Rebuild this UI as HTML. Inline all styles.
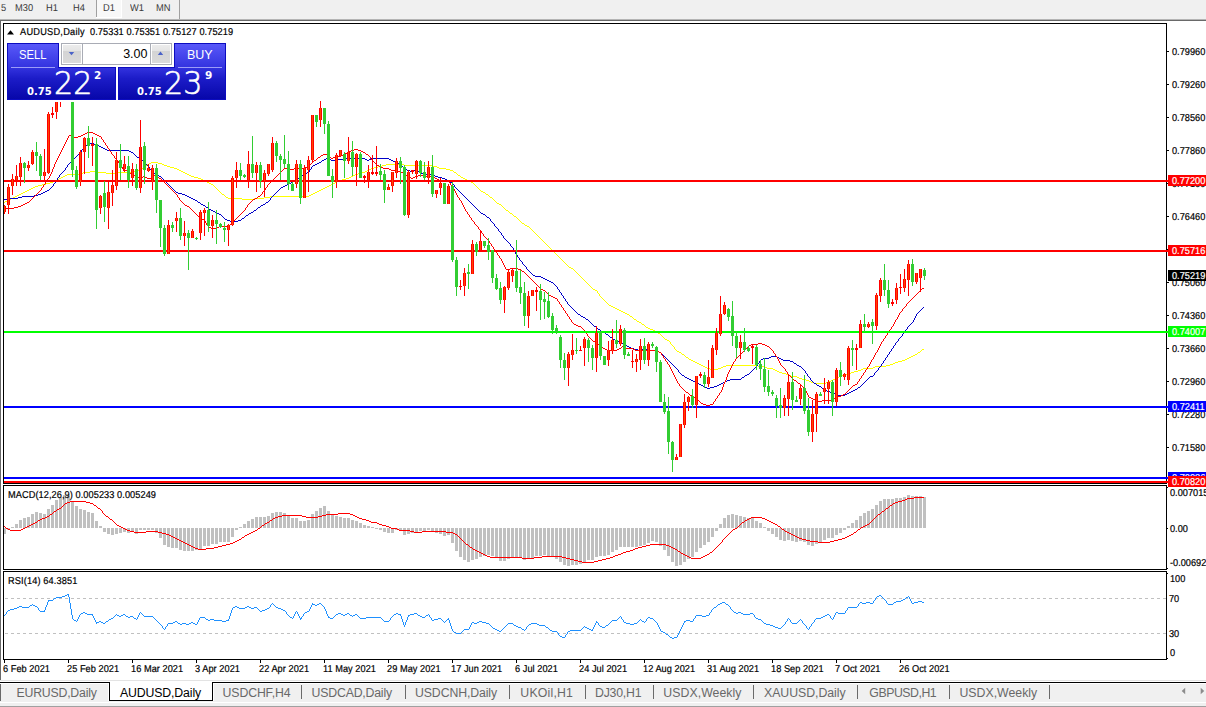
<!DOCTYPE html>
<html><head><meta charset="utf-8"><title>AUDUSD,Daily</title>
<style>
html,body{margin:0;padding:0;background:#fff;}
body{width:1206px;height:707px;position:relative;overflow:hidden;font-family:"Liberation Sans",sans-serif;}
.abs{position:absolute}
.t{position:absolute;white-space:nowrap;color:#000;line-height:12px;}
.ax{font-size:10px;text-rendering:geometricPrecision;-webkit-text-stroke:0.2px #000;transform:scaleX(0.92);transform-origin:0 0}
.tag{position:absolute;left:1168px;width:38px;height:11px;font-size:9.5px;line-height:11px;padding-left:4px;box-sizing:border-box;white-space:nowrap;overflow:hidden}
#toolbar{position:absolute;left:0;top:0;width:1206px;height:19px;background:#f0f0f0}
.tbt{position:absolute;top:2.5px;font-size:10px;line-height:12px;color:#383838;white-space:nowrap;text-rendering:geometricPrecision;transform:scaleX(0.93);transform-origin:0 0}
#tabbar{position:absolute;left:0;top:683px;width:1206px;height:19px;background:#f0f0f0}
.tab{position:absolute;top:2px;font-size:12.3px;line-height:16px;color:#686868;white-space:nowrap}
.tab.act{color:#000}
.sep{position:absolute;top:2px;width:1px;height:14px;background:#6a6a6a}
svg{position:absolute;left:0;top:0}
.pan{background:linear-gradient(#5858f8 0px,#3a3ae0 24px,#2020c8 34px,#0808ac 57px);background-size:100% 57px;background-repeat:no-repeat}
.sb{color:#fff;font-size:12.5px;line-height:16px}
.btn{width:18px;height:18px;background:linear-gradient(#ececec,#e4e4e4 33%,#d4d4d4 34%,#dadada)}
.btn svg{position:absolute;left:0;top:0}
.sm{color:#fff;font-family:"DejaVu Sans",sans-serif;font-weight:bold;font-size:10px;line-height:12px}
.big{color:#fff;font-family:"DejaVu Sans",sans-serif;font-weight:200;font-size:32px;line-height:36px;transform:scaleX(0.94);transform-origin:0 0;-webkit-text-stroke:0.65px #fff}
.sup{color:#fff;font-family:"DejaVu Sans",sans-serif;font-weight:bold;font-size:10.5px;line-height:12px}
</style></head><body>
<div id="toolbar">
<div class="abs" style="left:96px;top:0;width:1px;height:17px;background:#a0a0a0"></div>
<div class="abs" style="left:97px;top:0;width:24px;height:17px;background:#f8f8f8"></div>
<div class="abs" style="left:121px;top:0;width:1px;height:18px;background:#fff"></div>
<div class="abs" style="left:96px;top:17px;width:26px;height:1px;background:#fff"></div>
<div class="abs" style="left:179px;top:0;width:1px;height:19px;background:#a0a0a0"></div>
<div class="tbt" style="left:0.5px">5</div><div class="tbt" style="left:15.3px">M30</div><div class="tbt" style="left:46.2px">H1</div><div class="tbt" style="left:73.2px">H4</div><div class="tbt" style="left:102.6px">D1</div><div class="tbt" style="left:129.8px">W1</div><div class="tbt" style="left:156px">MN</div>
</div>
<div class="abs" style="left:0;top:19px;width:1206px;height:1px;background:#b4b4b4"></div>
<div class="abs" style="left:0;top:20px;width:1206px;height:1px;background:#696969"></div>
<div class="abs" style="left:0;top:21px;width:1px;height:659px;background:#696969"></div>
<svg width="1206" height="707" viewBox="0 0 1206 707" shape-rendering="crispEdges">
<path d="M4 202h1v1h-1zM5 201h1v1h-1zM6 201h1v1h-1zM7 200h1v1h-1zM8 200h1v1h-1zM9 199h1v1h-1zM10 199h1v1h-1zM11 198h1v1h-1zM12 198h1v1h-1zM13 197h1v1h-1zM14 197h1v1h-1zM15 196h1v1h-1zM16 196h1v1h-1zM17 195h1v1h-1zM18 195h1v1h-1zM19 194h1v1h-1zM20 194h1v1h-1zM21 193h1v1h-1zM22 193h1v1h-1zM23 192h1v1h-1zM24 192h1v1h-1zM25 191h1v1h-1zM26 191h1v1h-1zM27 190h1v1h-1zM28 190h1v1h-1zM29 189h1v1h-1zM30 189h1v1h-1zM31 188h1v1h-1zM32 188h1v1h-1zM33 187h1v1h-1zM34 187h1v1h-1zM35 186h1v1h-1zM36 186h1v1h-1zM37 186h1v1h-1zM38 185h1v1h-1zM39 185h1v1h-1zM40 185h1v1h-1zM41 185h1v1h-1zM42 184h1v1h-1zM43 184h1v1h-1zM44 184h1v1h-1zM45 184h1v1h-1zM46 183h1v1h-1zM47 183h1v1h-1zM48 183h1v1h-1zM49 183h1v1h-1zM50 182h1v1h-1zM51 182h1v1h-1zM52 182h1v1h-1zM53 181h1v1h-1zM54 181h1v1h-1zM55 180h1v1h-1zM56 180h1v1h-1zM57 179h1v1h-1zM58 179h1v1h-1zM59 178h1v1h-1zM60 178h1v1h-1zM61 177h1v1h-1zM62 177h1v1h-1zM63 176h1v1h-1zM64 176h1v1h-1zM65 175h1v1h-1zM66 175h1v1h-1zM67 174h1v1h-1zM68 174h1v1h-1zM69 174h1v1h-1zM70 174h1v1h-1zM71 174h1v1h-1zM72 174h1v1h-1zM73 174h1v1h-1zM74 174h1v1h-1zM75 174h1v1h-1zM76 174h1v1h-1zM77 174h1v1h-1zM78 174h1v1h-1zM79 174h1v1h-1zM80 174h1v1h-1zM81 173h1v1h-1zM82 173h1v1h-1zM83 172h1v1h-1zM84 172h1v1h-1zM85 172h1v1h-1zM86 172h1v1h-1zM87 172h1v1h-1zM88 172h1v1h-1zM89 172h1v1h-1zM90 171h1v1h-1zM91 171h1v1h-1zM92 171h1v1h-1zM93 171h1v1h-1zM94 171h1v1h-1zM95 171h1v1h-1zM96 171h1v1h-1zM97 171h1v1h-1zM98 172h1v1h-1zM99 172h1v1h-1zM100 172h1v1h-1zM101 172h1v1h-1zM102 172h1v1h-1zM103 172h1v1h-1zM104 172h1v1h-1zM105 172h1v1h-1zM106 173h1v1h-1zM107 173h1v1h-1zM108 173h1v1h-1zM109 173h1v1h-1zM110 173h1v1h-1zM111 173h1v1h-1zM112 173h1v1h-1zM113 173h1v1h-1zM114 173h1v1h-1zM115 173h1v1h-1zM116 173h1v1h-1zM117 173h1v1h-1zM118 172h1v1h-1zM119 172h1v1h-1zM120 172h1v1h-1zM121 172h1v1h-1zM122 172h1v1h-1zM123 172h1v1h-1zM124 172h1v1h-1zM125 172h1v1h-1zM126 172h1v1h-1zM127 172h1v1h-1zM128 172h1v1h-1zM129 172h1v1h-1zM130 172h1v1h-1zM131 172h1v1h-1zM132 172h1v1h-1zM133 171h1v1h-1zM134 171h1v1h-1zM135 170h1v1h-1zM136 170h1v1h-1zM137 170h1v1h-1zM138 170h1v1h-1zM139 170h1v1h-1zM140 170h1v1h-1zM141 169h1v1h-1zM142 168h1v1h-1zM143 167h1v1h-1zM144 166h1v1h-1zM145 165h1v1h-1zM146 165h1v1h-1zM147 164h1v1h-1zM148 164h1v1h-1zM149 163h1v1h-1zM150 163h1v1h-1zM151 162h1v1h-1zM152 162h1v1h-1zM153 162h1v1h-1zM154 162h1v1h-1zM155 162h1v1h-1zM156 162h1v1h-1zM157 162h1v1h-1zM158 163h1v1h-1zM159 163h1v1h-1zM160 163h1v1h-1zM161 163h1v1h-1zM162 164h1v1h-1zM163 164h1v1h-1zM164 165h1v1h-1zM165 165h1v1h-1zM166 165h1v1h-1zM167 166h1v1h-1zM168 166h1v1h-1zM169 166h1v1h-1zM170 167h1v1h-1zM171 167h1v1h-1zM172 167h1v1h-1zM173 167h1v1h-1zM174 168h1v1h-1zM175 168h1v1h-1zM176 168h1v1h-1zM177 169h1v1h-1zM178 169h1v1h-1zM179 170h1v1h-1zM180 170h1v1h-1zM181 171h1v1h-1zM182 171h1v1h-1zM183 172h1v1h-1zM184 172h1v1h-1zM185 173h1v1h-1zM186 173h1v1h-1zM187 174h1v1h-1zM188 174h1v1h-1zM189 175h1v1h-1zM190 175h1v1h-1zM191 176h1v1h-1zM192 176h1v1h-1zM193 176h1v1h-1zM194 177h1v1h-1zM195 177h1v1h-1zM196 177h1v1h-1zM197 177h1v1h-1zM198 178h1v1h-1zM199 178h1v1h-1zM200 178h1v1h-1zM201 179h1v1h-1zM202 179h1v1h-1zM203 180h1v1h-1zM204 180h1v1h-1zM205 181h1v1h-1zM206 181h1v1h-1zM207 182h1v1h-1zM208 182h1v1h-1zM209 183h1v1h-1zM210 183h1v1h-1zM211 184h1v1h-1zM212 184h1v1h-1zM213 185h1v1h-1zM214 186h1v1h-1zM215 187h1v1h-1zM216 188h1v1h-1zM217 189h1v1h-1zM218 190h1v1h-1zM219 191h1v1h-1zM220 192h1v1h-1zM221 193h1v1h-1zM222 194h1v1h-1zM223 194h1v1h-1zM224 195h1v1h-1zM225 196h1v1h-1zM226 197h1v1h-1zM227 197h1v1h-1zM228 198h1v1h-1zM229 198h1v1h-1zM230 198h1v1h-1zM231 198h1v1h-1zM232 198h1v1h-1zM233 198h1v1h-1zM234 198h1v1h-1zM235 198h1v1h-1zM236 198h1v1h-1zM237 198h1v1h-1zM238 198h1v1h-1zM239 198h1v1h-1zM240 198h1v1h-1zM241 198h1v1h-1zM242 199h1v1h-1zM243 199h1v1h-1zM244 199h1v1h-1zM245 199h1v1h-1zM246 199h1v1h-1zM247 199h1v1h-1zM248 199h1v1h-1zM249 199h1v1h-1zM250 199h1v1h-1zM251 199h1v1h-1zM252 199h1v1h-1zM253 199h1v1h-1zM254 198h1v1h-1zM255 198h1v1h-1zM256 198h1v1h-1zM257 198h1v1h-1zM258 198h1v1h-1zM259 198h1v1h-1zM260 198h1v1h-1zM261 198h1v1h-1zM262 198h1v1h-1zM263 198h1v1h-1zM264 197h1v1h-1zM265 197h1v1h-1zM266 197h1v1h-1zM267 197h1v1h-1zM268 197h1v1h-1zM269 197h1v1h-1zM270 196h1v1h-1zM271 196h1v1h-1zM272 196h1v1h-1zM273 196h1v1h-1zM274 196h1v1h-1zM275 196h1v1h-1zM276 196h1v1h-1zM277 196h1v1h-1zM278 196h1v1h-1zM279 196h1v1h-1zM280 196h1v1h-1zM281 196h1v1h-1zM282 196h1v1h-1zM283 196h1v1h-1zM284 196h1v1h-1zM285 196h1v1h-1zM286 196h1v1h-1zM287 196h1v1h-1zM288 196h1v1h-1zM289 196h1v1h-1zM290 196h1v1h-1zM291 196h1v1h-1zM292 196h1v1h-1zM293 196h1v1h-1zM294 196h1v1h-1zM295 196h1v1h-1zM296 196h1v1h-1zM297 196h1v1h-1zM298 196h1v1h-1zM299 196h1v1h-1zM300 196h1v1h-1zM301 196h1v1h-1zM302 196h1v1h-1zM303 196h1v1h-1zM304 196h1v1h-1zM305 196h1v1h-1zM306 196h1v1h-1zM307 196h1v1h-1zM308 196h1v1h-1zM309 195h1v1h-1zM310 195h1v1h-1zM311 194h1v1h-1zM312 194h1v1h-1zM313 193h1v1h-1zM314 193h1v1h-1zM315 192h1v1h-1zM316 192h1v1h-1zM317 191h1v1h-1zM318 191h1v1h-1zM319 190h1v1h-1zM320 190h1v1h-1zM321 189h1v1h-1zM322 189h1v1h-1zM323 188h1v1h-1zM324 188h1v1h-1zM325 187h1v1h-1zM326 187h1v1h-1zM327 186h1v1h-1zM328 186h1v1h-1zM329 185h1v1h-1zM330 185h1v1h-1zM331 184h1v1h-1zM332 184h1v1h-1zM333 183h1v1h-1zM334 183h1v1h-1zM335 182h1v1h-1zM336 182h1v1h-1zM337 181h1v1h-1zM338 181h1v1h-1zM339 180h1v1h-1zM340 180h1v1h-1zM341 180h1v1h-1zM342 179h1v1h-1zM343 179h1v1h-1zM344 179h1v1h-1zM345 179h1v1h-1zM346 178h1v1h-1zM347 178h1v1h-1zM348 178h1v1h-1zM349 177h1v1h-1zM350 177h1v1h-1zM351 176h1v1h-1zM352 176h1v1h-1zM353 175h1v1h-1zM354 175h1v1h-1zM355 174h1v1h-1zM356 174h1v1h-1zM357 174h1v1h-1zM358 173h1v1h-1zM359 173h1v1h-1zM360 173h1v1h-1zM361 173h1v1h-1zM362 172h1v1h-1zM363 172h1v1h-1zM364 172h1v1h-1zM365 171h1v1h-1zM366 171h1v1h-1zM367 170h1v1h-1zM368 170h1v1h-1zM369 169h1v1h-1zM370 169h1v1h-1zM371 168h1v1h-1zM372 168h1v1h-1zM373 168h1v1h-1zM374 167h1v1h-1zM375 167h1v1h-1zM376 167h1v1h-1zM377 167h1v1h-1zM378 166h1v1h-1zM379 166h1v1h-1zM380 166h1v1h-1zM381 166h1v1h-1zM382 165h1v1h-1zM383 165h1v1h-1zM384 165h1v1h-1zM385 165h1v1h-1zM386 164h1v1h-1zM387 164h1v1h-1zM388 164h1v1h-1zM389 164h1v1h-1zM390 164h1v1h-1zM391 164h1v1h-1zM392 164h1v1h-1zM393 164h1v1h-1zM394 164h1v1h-1zM395 164h1v1h-1zM396 164h1v1h-1zM397 164h1v1h-1zM398 164h1v1h-1zM399 164h1v1h-1zM400 164h1v1h-1zM401 164h1v1h-1zM402 164h1v1h-1zM403 164h1v1h-1zM404 165h1v1h-1zM405 165h1v1h-1zM406 165h1v1h-1zM407 165h1v1h-1zM408 165h1v1h-1zM409 165h1v1h-1zM410 165h1v1h-1zM411 165h1v1h-1zM412 165h1v1h-1zM413 165h1v1h-1zM414 165h1v1h-1zM415 165h1v1h-1zM416 165h1v1h-1zM417 165h1v1h-1zM418 165h1v1h-1zM419 165h1v1h-1zM420 165h1v1h-1zM421 165h1v1h-1zM422 165h1v1h-1zM423 165h1v1h-1zM424 165h1v1h-1zM425 165h1v1h-1zM426 165h1v1h-1zM427 165h1v1h-1zM428 165h1v1h-1zM429 165h1v1h-1zM430 165h1v1h-1zM431 165h1v1h-1zM432 165h1v1h-1zM433 166h1v1h-1zM434 166h1v1h-1zM435 166h1v1h-1zM436 166h1v1h-1zM437 167h1v1h-1zM438 167h1v1h-1zM439 168h1v1h-1zM440 168h1v1h-1zM441 168h1v1h-1zM442 168h1v1h-1zM443 168h1v1h-1zM444 168h1v1h-1zM445 168h1v1h-1zM446 169h1v1h-1zM447 169h1v1h-1zM448 169h1v1h-1zM449 169h1v1h-1zM450 170h1v1h-1zM451 170h1v1h-1zM452 170h1v1h-1zM453 171h1v1h-1zM454 172h1v1h-1zM455 172h1v1h-1zM456 173h1v1h-1zM457 174h1v1h-1zM458 175h1v1h-1zM459 175h1v1h-1zM460 176h1v1h-1zM461 177h1v1h-1zM462 177h1v1h-1zM463 178h1v1h-1zM464 178h1v1h-1zM465 179h1v1h-1zM466 179h1v1h-1zM467 180h1v1h-1zM468 180h1v1h-1zM469 181h1v1h-1zM470 181h1v1h-1zM471 182h1v1h-1zM472 182h1v1h-1zM473 183h1v1h-1zM474 184h1v1h-1zM475 185h1v1h-1zM476 186h1v1h-1zM477 187h1v1h-1zM478 188h1v1h-1zM479 189h1v1h-1zM480 190h1v1h-1zM481 191h1v1h-1zM482 191h1v1h-1zM483 192h1v1h-1zM484 192h1v1h-1zM485 193h1v1h-1zM486 194h1v1h-1zM487 194h1v1h-1zM488 195h1v1h-1zM489 196h1v1h-1zM490 197h1v1h-1zM491 197h1v1h-1zM492 198h1v1h-1zM493 199h1v1h-1zM494 200h1v1h-1zM495 201h1v1h-1zM496 202h1v1h-1zM497 203h1v1h-1zM498 203h1v1h-1zM499 204h1v1h-1zM500 204h1v1h-1zM501 205h1v1h-1zM502 206h1v1h-1zM503 207h1v1h-1zM504 208h1v1h-1zM505 209h1v1h-1zM506 210h1v1h-1zM507 210h1v1h-1zM508 211h1v1h-1zM509 212h1v1h-1zM510 213h1v1h-1zM511 213h1v1h-1zM512 214h1v1h-1zM513 215h1v1h-1zM514 216h1v1h-1zM515 216h1v1h-1zM516 217h1v1h-1zM517 218h1v1h-1zM518 219h1v1h-1zM519 220h1v1h-1zM520 221h1v1h-1zM521 222h1v1h-1zM522 223h1v1h-1zM523 223h1v1h-1zM524 224h1v1h-1zM525 225h1v1h-1zM526 225h1v1h-1zM527 226h1v1h-1zM528 226h1v1h-1zM529 227h1v1h-1zM530 228h1v1h-1zM531 229h1v1h-1zM532 230h1v1h-1zM533 231h1v1h-1zM534 232h1v1h-1zM535 233h1v1h-1zM536 234h1v1h-1zM537 235h1v1h-1zM538 236h1v1h-1zM539 237h1v1h-1zM540 238h1v1h-1zM541 239h1v1h-1zM542 240h1v1h-1zM543 241h1v1h-1zM544 242h1v1h-1zM545 243h1v1h-1zM546 244h1v1h-1zM547 245h1v1h-1zM548 246h1v1h-1zM549 247h1v1h-1zM550 248h1v1h-1zM551 249h1v1h-1zM552 250h1v1h-1zM553 251h1v1h-1zM554 252h1v1h-1zM555 253h1v1h-1zM556 254h1v1h-1zM557 255h1v1h-1zM558 256h1v1h-1zM559 257h1v1h-1zM560 258h1v1h-1zM561 259h1v1h-1zM562 260h1v1h-1zM563 261h1v1h-1zM564 262h1v1h-1zM565 263h1v1h-1zM566 264h1v1h-1zM567 265h1v1h-1zM568 266h1v1h-1zM569 267h1v1h-1zM570 267h1v1h-1zM571 268h1v1h-1zM572 268h1v1h-1zM573 269h1v1h-1zM574 270h1v1h-1zM575 271h1v1h-1zM576 272h1v1h-1zM577 273h1v1h-1zM578 274h1v1h-1zM579 275h1v1h-1zM580 276h1v1h-1zM581 277h1v1h-1zM582 278h1v1h-1zM583 279h1v1h-1zM584 280h1v1h-1zM585 281h1v1h-1zM586 282h1v1h-1zM587 283h1v1h-1zM588 284h1v1h-1zM589 285h1v1h-1zM590 286h1v1h-1zM591 287h1v1h-1zM592 288h1v1h-1zM593 289h1v1h-1zM594 289h1v1h-1zM595 290h1v1h-1zM596 290h1v1h-1zM597 291h1v2h-1zM598 293h1v1h-1zM599 294h1v2h-1zM600 296h1v1h-1zM601 297h1v1h-1zM602 298h1v1h-1zM603 299h1v1h-1zM604 300h1v1h-1zM605 301h1v1h-1zM606 302h1v1h-1zM607 303h1v1h-1zM608 304h1v1h-1zM609 305h1v1h-1zM610 305h1v1h-1zM611 306h1v1h-1zM612 306h1v1h-1zM613 307h1v1h-1zM614 307h1v1h-1zM615 308h1v1h-1zM616 308h1v1h-1zM617 309h1v1h-1zM618 309h1v1h-1zM619 310h1v1h-1zM620 310h1v1h-1zM621 311h1v1h-1zM622 311h1v1h-1zM623 312h1v1h-1zM624 312h1v1h-1zM625 313h1v1h-1zM626 313h1v1h-1zM627 314h1v1h-1zM628 314h1v1h-1zM629 315h1v1h-1zM630 316h1v1h-1zM631 316h1v1h-1zM632 317h1v1h-1zM633 318h1v1h-1zM634 319h1v1h-1zM635 319h1v1h-1zM636 320h1v1h-1zM637 321h1v1h-1zM638 321h1v1h-1zM639 322h1v1h-1zM640 322h1v1h-1zM641 323h1v1h-1zM642 324h1v1h-1zM643 324h1v1h-1zM644 325h1v1h-1zM645 326h1v1h-1zM646 327h1v1h-1zM647 327h1v1h-1zM648 328h1v1h-1zM649 328h1v1h-1zM650 329h1v1h-1zM651 329h1v1h-1zM652 329h1v1h-1zM653 330h1v1h-1zM654 330h1v1h-1zM655 331h1v1h-1zM656 331h1v1h-1zM657 332h1v1h-1zM658 333h1v1h-1zM659 333h1v1h-1zM660 334h1v1h-1zM661 335h1v1h-1zM662 336h1v1h-1zM663 337h1v1h-1zM664 338h1v1h-1zM665 339h1v1h-1zM666 339h1v1h-1zM667 340h1v1h-1zM668 340h1v1h-1zM669 341h1v1h-1zM670 342h1v2h-1zM671 344h1v1h-1zM672 345h1v1h-1zM673 346h1v1h-1zM674 347h1v2h-1zM675 349h1v1h-1zM676 350h1v1h-1zM677 351h1v1h-1zM678 351h1v1h-1zM679 352h1v1h-1zM680 352h1v1h-1zM681 353h1v1h-1zM682 354h1v1h-1zM683 354h1v1h-1zM684 355h1v1h-1zM685 356h1v1h-1zM686 357h1v1h-1zM687 357h1v1h-1zM688 358h1v1h-1zM689 359h1v1h-1zM690 359h1v1h-1zM691 360h1v1h-1zM692 360h1v1h-1zM693 361h1v1h-1zM694 361h1v1h-1zM695 362h1v1h-1zM696 362h1v1h-1zM697 363h1v1h-1zM698 363h1v1h-1zM699 364h1v1h-1zM700 364h1v1h-1zM701 365h1v1h-1zM702 365h1v1h-1zM703 366h1v1h-1zM704 366h1v1h-1zM705 367h1v1h-1zM706 367h1v1h-1zM707 368h1v1h-1zM708 368h1v1h-1zM709 368h1v1h-1zM710 369h1v1h-1zM711 369h1v1h-1zM712 369h1v1h-1zM713 369h1v1h-1zM714 369h1v1h-1zM715 369h1v1h-1zM716 369h1v1h-1zM717 369h1v1h-1zM718 368h1v1h-1zM719 368h1v1h-1zM720 368h1v1h-1zM721 367h1v1h-1zM722 367h1v1h-1zM723 366h1v1h-1zM724 366h1v1h-1zM725 366h1v1h-1zM726 365h1v1h-1zM727 365h1v1h-1zM728 365h1v1h-1zM729 365h1v1h-1zM730 365h1v1h-1zM731 365h1v1h-1zM732 365h1v1h-1zM733 365h1v1h-1zM734 365h1v1h-1zM735 365h1v1h-1zM736 365h1v1h-1zM737 365h1v1h-1zM738 365h1v1h-1zM739 365h1v1h-1zM740 365h1v1h-1zM741 365h1v1h-1zM742 365h1v1h-1zM743 365h1v1h-1zM744 365h1v1h-1zM745 365h1v1h-1zM746 365h1v1h-1zM747 365h1v1h-1zM748 365h1v1h-1zM749 365h1v1h-1zM750 365h1v1h-1zM751 365h1v1h-1zM752 365h1v1h-1zM753 365h1v1h-1zM754 365h1v1h-1zM755 365h1v1h-1zM756 365h1v1h-1zM757 365h1v1h-1zM758 366h1v1h-1zM759 366h1v1h-1zM760 366h1v1h-1zM761 366h1v1h-1zM762 366h1v1h-1zM763 366h1v1h-1zM764 366h1v1h-1zM765 367h1v1h-1zM766 367h1v1h-1zM767 368h1v1h-1zM768 368h1v1h-1zM769 368h1v1h-1zM770 368h1v1h-1zM771 368h1v1h-1zM772 368h1v1h-1zM773 369h1v1h-1zM774 369h1v1h-1zM775 370h1v1h-1zM776 370h1v1h-1zM777 371h1v1h-1zM778 371h1v1h-1zM779 372h1v1h-1zM780 372h1v1h-1zM781 372h1v1h-1zM782 373h1v1h-1zM783 373h1v1h-1zM784 373h1v1h-1zM785 373h1v1h-1zM786 374h1v1h-1zM787 374h1v1h-1zM788 374h1v1h-1zM789 375h1v1h-1zM790 375h1v1h-1zM791 376h1v1h-1zM792 376h1v1h-1zM793 376h1v1h-1zM794 376h1v1h-1zM795 376h1v1h-1zM796 376h1v1h-1zM797 377h1v1h-1zM798 377h1v1h-1zM799 378h1v1h-1zM800 378h1v1h-1zM801 378h1v1h-1zM802 379h1v1h-1zM803 379h1v1h-1zM804 379h1v1h-1zM805 379h1v1h-1zM806 380h1v1h-1zM807 380h1v1h-1zM808 380h1v1h-1zM809 381h1v1h-1zM810 381h1v1h-1zM811 382h1v1h-1zM812 382h1v1h-1zM813 382h1v1h-1zM814 383h1v1h-1zM815 383h1v1h-1zM816 383h1v1h-1zM817 383h1v1h-1zM818 383h1v1h-1zM819 383h1v1h-1zM820 383h1v1h-1zM821 383h1v1h-1zM822 383h1v1h-1zM823 383h1v1h-1zM824 383h1v1h-1zM825 383h1v1h-1zM826 382h1v1h-1zM827 382h1v1h-1zM828 382h1v1h-1zM829 381h1v1h-1zM830 381h1v1h-1zM831 380h1v1h-1zM832 380h1v1h-1zM833 379h1v1h-1zM834 379h1v1h-1zM835 378h1v1h-1zM836 378h1v1h-1zM837 377h1v1h-1zM838 377h1v1h-1zM839 376h1v1h-1zM840 376h1v1h-1zM841 376h1v1h-1zM842 375h1v1h-1zM843 375h1v1h-1zM844 375h1v1h-1zM845 375h1v1h-1zM846 374h1v1h-1zM847 374h1v1h-1zM848 374h1v1h-1zM849 373h1v1h-1zM850 373h1v1h-1zM851 372h1v1h-1zM852 372h1v1h-1zM853 372h1v1h-1zM854 371h1v1h-1zM855 371h1v1h-1zM856 371h1v1h-1zM857 371h1v1h-1zM858 370h1v1h-1zM859 370h1v1h-1zM860 370h1v1h-1zM861 369h1v1h-1zM862 369h1v1h-1zM863 368h1v1h-1zM864 368h1v1h-1zM865 368h1v1h-1zM866 368h1v1h-1zM867 368h1v1h-1zM868 368h1v1h-1zM869 368h1v1h-1zM870 368h1v1h-1zM871 368h1v1h-1zM872 368h1v1h-1zM873 367h1v1h-1zM874 367h1v1h-1zM875 366h1v1h-1zM876 366h1v1h-1zM877 366h1v1h-1zM878 366h1v1h-1zM879 366h1v1h-1zM880 366h1v1h-1zM881 366h1v1h-1zM882 366h1v1h-1zM883 366h1v1h-1zM884 366h1v1h-1zM885 366h1v1h-1zM886 365h1v1h-1zM887 365h1v1h-1zM888 365h1v1h-1zM889 365h1v1h-1zM890 364h1v1h-1zM891 364h1v1h-1zM892 364h1v1h-1zM893 363h1v1h-1zM894 363h1v1h-1zM895 362h1v1h-1zM896 362h1v1h-1zM897 362h1v1h-1zM898 361h1v1h-1zM899 361h1v1h-1zM900 361h1v1h-1zM901 361h1v1h-1zM902 360h1v1h-1zM903 360h1v1h-1zM904 360h1v1h-1zM905 359h1v1h-1zM906 359h1v1h-1zM907 358h1v1h-1zM908 358h1v1h-1zM909 357h1v1h-1zM910 357h1v1h-1zM911 356h1v1h-1zM912 356h1v1h-1zM913 355h1v1h-1zM914 355h1v1h-1zM915 354h1v1h-1zM916 354h1v1h-1zM917 353h1v1h-1zM918 352h1v1h-1zM919 352h1v1h-1zM920 351h1v1h-1zM921 350h1v1h-1zM922 349h1v1h-1zM923 349h1v1h-1z" fill="#ffff00"/>
<path d="M4 199h1v1h-1zM5 199h1v1h-1zM6 199h1v1h-1zM7 199h1v1h-1zM8 199h1v1h-1zM9 199h1v1h-1zM10 198h1v1h-1zM11 198h1v1h-1zM12 198h1v1h-1zM13 198h1v1h-1zM14 198h1v1h-1zM15 198h1v1h-1zM16 198h1v1h-1zM17 198h1v1h-1zM18 197h1v1h-1zM19 197h1v1h-1zM20 197h1v1h-1zM21 197h1v1h-1zM22 196h1v1h-1zM23 196h1v1h-1zM24 196h1v1h-1zM25 196h1v1h-1zM26 196h1v1h-1zM27 196h1v1h-1zM28 196h1v1h-1zM29 196h1v1h-1zM30 196h1v1h-1zM31 196h1v1h-1zM32 196h1v1h-1zM33 196h1v1h-1zM34 195h1v1h-1zM35 195h1v1h-1zM36 195h1v1h-1zM37 195h1v1h-1zM38 194h1v1h-1zM39 194h1v1h-1zM40 194h1v1h-1zM41 193h1v1h-1zM42 193h1v1h-1zM43 192h1v1h-1zM44 192h1v1h-1zM45 191h1v1h-1zM46 191h1v1h-1zM47 190h1v1h-1zM48 190h1v1h-1zM49 189h1v1h-1zM50 188h1v1h-1zM51 187h1v1h-1zM52 186h1v1h-1zM53 184h1v2h-1zM54 183h1v1h-1zM55 181h1v2h-1zM56 180h1v1h-1zM57 178h1v2h-1zM58 177h1v1h-1zM59 175h1v2h-1zM60 174h1v1h-1zM61 173h1v1h-1zM62 172h1v1h-1zM63 171h1v1h-1zM64 170h1v1h-1zM65 168h1v2h-1zM66 167h1v1h-1zM67 165h1v2h-1zM68 164h1v1h-1zM69 163h1v1h-1zM70 162h1v1h-1zM71 161h1v1h-1zM72 160h1v1h-1zM73 159h1v1h-1zM74 158h1v1h-1zM75 157h1v1h-1zM76 156h1v1h-1zM77 155h1v1h-1zM78 154h1v1h-1zM79 153h1v1h-1zM80 152h1v1h-1zM81 150h1v2h-1zM82 149h1v1h-1zM83 147h1v2h-1zM84 146h1v1h-1zM85 145h1v1h-1zM86 145h1v1h-1zM87 144h1v1h-1zM88 144h1v1h-1zM89 144h1v1h-1zM90 143h1v1h-1zM91 143h1v1h-1zM92 143h1v1h-1zM93 143h1v1h-1zM94 144h1v1h-1zM95 144h1v1h-1zM96 144h1v1h-1zM97 145h1v1h-1zM98 145h1v1h-1zM99 146h1v1h-1zM100 146h1v1h-1zM101 147h1v1h-1zM102 147h1v1h-1zM103 148h1v1h-1zM104 148h1v1h-1zM105 149h1v1h-1zM106 149h1v1h-1zM107 150h1v1h-1zM108 150h1v1h-1zM109 150h1v1h-1zM110 150h1v1h-1zM111 150h1v1h-1zM112 150h1v1h-1zM113 150h1v1h-1zM114 150h1v1h-1zM115 150h1v1h-1zM116 150h1v1h-1zM117 150h1v1h-1zM118 150h1v1h-1zM119 150h1v1h-1zM120 150h1v1h-1zM121 150h1v1h-1zM122 150h1v1h-1zM123 150h1v1h-1zM124 150h1v1h-1zM125 150h1v1h-1zM126 150h1v1h-1zM127 150h1v1h-1zM128 150h1v1h-1zM129 151h1v1h-1zM130 151h1v1h-1zM131 152h1v1h-1zM132 152h1v1h-1zM133 153h1v1h-1zM134 154h1v1h-1zM135 155h1v1h-1zM136 156h1v1h-1zM137 157h1v1h-1zM138 157h1v1h-1zM139 158h1v1h-1zM140 158h1v1h-1zM141 159h1v1h-1zM142 160h1v1h-1zM143 161h1v1h-1zM144 162h1v1h-1zM145 163h1v1h-1zM146 164h1v1h-1zM147 165h1v1h-1zM148 166h1v1h-1zM149 167h1v2h-1zM150 169h1v1h-1zM151 170h1v2h-1zM152 172h1v1h-1zM153 173h1v1h-1zM154 173h1v1h-1zM155 174h1v1h-1zM156 174h1v1h-1zM157 175h1v1h-1zM158 175h1v1h-1zM159 176h1v1h-1zM160 176h1v1h-1zM161 177h1v1h-1zM162 178h1v1h-1zM163 179h1v1h-1zM164 180h1v1h-1zM165 181h1v1h-1zM166 182h1v1h-1zM167 183h1v1h-1zM168 184h1v1h-1zM169 185h1v1h-1zM170 186h1v1h-1zM171 187h1v1h-1zM172 188h1v1h-1zM173 189h1v1h-1zM174 190h1v1h-1zM175 191h1v1h-1zM176 192h1v1h-1zM177 192h1v1h-1zM178 193h1v1h-1zM179 193h1v1h-1zM180 193h1v1h-1zM181 193h1v1h-1zM182 194h1v1h-1zM183 194h1v1h-1zM184 194h1v1h-1zM185 195h1v1h-1zM186 195h1v1h-1zM187 196h1v1h-1zM188 196h1v1h-1zM189 197h1v1h-1zM190 197h1v1h-1zM191 198h1v1h-1zM192 198h1v1h-1zM193 199h1v1h-1zM194 199h1v1h-1zM195 200h1v1h-1zM196 200h1v1h-1zM197 201h1v1h-1zM198 202h1v1h-1zM199 202h1v1h-1zM200 203h1v1h-1zM201 204h1v1h-1zM202 204h1v1h-1zM203 205h1v1h-1zM204 205h1v1h-1zM205 206h1v1h-1zM206 207h1v1h-1zM207 207h1v1h-1zM208 208h1v1h-1zM209 209h1v1h-1zM210 209h1v1h-1zM211 210h1v1h-1zM212 210h1v1h-1zM213 211h1v1h-1zM214 211h1v1h-1zM215 212h1v1h-1zM216 212h1v1h-1zM217 213h1v1h-1zM218 213h1v1h-1zM219 214h1v1h-1zM220 214h1v1h-1zM221 215h1v1h-1zM222 216h1v1h-1zM223 217h1v1h-1zM224 218h1v1h-1zM225 219h1v1h-1zM226 219h1v1h-1zM227 220h1v1h-1zM228 220h1v1h-1zM229 220h1v1h-1zM230 221h1v1h-1zM231 221h1v1h-1zM232 221h1v1h-1zM233 221h1v1h-1zM234 221h1v1h-1zM235 221h1v1h-1zM236 221h1v1h-1zM237 221h1v1h-1zM238 220h1v1h-1zM239 220h1v1h-1zM240 220h1v1h-1zM241 219h1v1h-1zM242 218h1v1h-1zM243 218h1v1h-1zM244 217h1v1h-1zM245 216h1v1h-1zM246 215h1v1h-1zM247 215h1v1h-1zM248 214h1v1h-1zM249 213h1v1h-1zM250 213h1v1h-1zM251 212h1v1h-1zM252 212h1v1h-1zM253 211h1v1h-1zM254 210h1v1h-1zM255 210h1v1h-1zM256 209h1v1h-1zM257 208h1v1h-1zM258 207h1v1h-1zM259 207h1v1h-1zM260 206h1v1h-1zM261 205h1v1h-1zM262 205h1v1h-1zM263 204h1v1h-1zM264 204h1v1h-1zM265 203h1v1h-1zM266 202h1v1h-1zM267 202h1v1h-1zM268 201h1v1h-1zM269 200h1v1h-1zM270 198h1v2h-1zM271 197h1v1h-1zM272 196h1v1h-1zM273 195h1v1h-1zM274 194h1v1h-1zM275 193h1v1h-1zM276 192h1v1h-1zM277 191h1v1h-1zM278 190h1v1h-1zM279 189h1v1h-1zM280 188h1v1h-1zM281 187h1v1h-1zM282 187h1v1h-1zM283 186h1v1h-1zM284 186h1v1h-1zM285 185h1v1h-1zM286 185h1v1h-1zM287 184h1v1h-1zM288 184h1v1h-1zM289 183h1v1h-1zM290 183h1v1h-1zM291 182h1v1h-1zM292 182h1v1h-1zM293 181h1v1h-1zM294 181h1v1h-1zM295 180h1v1h-1zM296 180h1v1h-1zM297 179h1v1h-1zM298 178h1v1h-1zM299 177h1v1h-1zM300 176h1v1h-1zM301 175h1v1h-1zM302 175h1v1h-1zM303 174h1v1h-1zM304 174h1v1h-1zM305 173h1v1h-1zM306 173h1v1h-1zM307 172h1v1h-1zM308 172h1v1h-1zM309 170h1v2h-1zM310 169h1v1h-1zM311 167h1v2h-1zM312 166h1v1h-1zM313 165h1v1h-1zM314 165h1v1h-1zM315 164h1v1h-1zM316 164h1v1h-1zM317 163h1v1h-1zM318 163h1v1h-1zM319 162h1v1h-1zM320 162h1v1h-1zM321 161h1v1h-1zM322 160h1v1h-1zM323 160h1v1h-1zM324 159h1v1h-1zM325 159h1v1h-1zM326 158h1v1h-1zM327 158h1v1h-1zM328 158h1v1h-1zM329 159h1v1h-1zM330 159h1v1h-1zM331 160h1v1h-1zM332 160h1v1h-1zM333 160h1v1h-1zM334 160h1v1h-1zM335 160h1v1h-1zM336 160h1v1h-1zM337 160h1v1h-1zM338 159h1v1h-1zM339 159h1v1h-1zM340 159h1v1h-1zM341 159h1v1h-1zM342 159h1v1h-1zM343 159h1v1h-1zM344 158h1v1h-1zM345 158h1v1h-1zM346 158h1v1h-1zM347 158h1v1h-1zM348 158h1v1h-1zM349 158h1v1h-1zM350 158h1v1h-1zM351 158h1v1h-1zM352 158h1v1h-1zM353 158h1v1h-1zM354 158h1v1h-1zM355 158h1v1h-1zM356 158h1v1h-1zM357 158h1v1h-1zM358 158h1v1h-1zM359 158h1v1h-1zM360 158h1v1h-1zM361 158h1v1h-1zM362 158h1v1h-1zM363 158h1v1h-1zM364 158h1v1h-1zM365 159h1v1h-1zM366 159h1v1h-1zM367 160h1v1h-1zM368 160h1v1h-1zM369 159h1v1h-1zM370 159h1v1h-1zM371 158h1v1h-1zM372 158h1v1h-1zM373 158h1v1h-1zM374 158h1v1h-1zM375 158h1v1h-1zM376 158h1v1h-1zM377 158h1v1h-1zM378 158h1v1h-1zM379 158h1v1h-1zM380 158h1v1h-1zM381 158h1v1h-1zM382 158h1v1h-1zM383 158h1v1h-1zM384 158h1v1h-1zM385 158h1v1h-1zM386 158h1v1h-1zM387 158h1v1h-1zM388 158h1v1h-1zM389 159h1v1h-1zM390 159h1v1h-1zM391 160h1v1h-1zM392 160h1v1h-1zM393 161h1v1h-1zM394 161h1v1h-1zM395 162h1v1h-1zM396 162h1v1h-1zM397 163h1v1h-1zM398 163h1v1h-1zM399 164h1v1h-1zM400 164h1v1h-1zM401 165h1v1h-1zM402 166h1v1h-1zM403 167h1v1h-1zM404 168h1v1h-1zM405 169h1v1h-1zM406 169h1v1h-1zM407 170h1v1h-1zM408 170h1v1h-1zM409 170h1v1h-1zM410 171h1v1h-1zM411 171h1v1h-1zM412 171h1v1h-1zM413 171h1v1h-1zM414 170h1v1h-1zM415 170h1v1h-1zM416 170h1v1h-1zM417 171h1v1h-1zM418 171h1v1h-1zM419 172h1v1h-1zM420 172h1v1h-1zM421 173h1v1h-1zM422 173h1v1h-1zM423 174h1v1h-1zM424 174h1v1h-1zM425 174h1v1h-1zM426 174h1v1h-1zM427 174h1v1h-1zM428 174h1v1h-1zM429 174h1v1h-1zM430 174h1v1h-1zM431 174h1v1h-1zM432 174h1v1h-1zM433 175h1v1h-1zM434 175h1v1h-1zM435 176h1v1h-1zM436 176h1v1h-1zM437 176h1v1h-1zM438 177h1v1h-1zM439 177h1v1h-1zM440 177h1v1h-1zM441 177h1v1h-1zM442 178h1v1h-1zM443 178h1v1h-1zM444 178h1v1h-1zM445 179h1v1h-1zM446 179h1v1h-1zM447 180h1v1h-1zM448 180h1v1h-1zM449 181h1v1h-1zM450 182h1v1h-1zM451 182h1v1h-1zM452 183h1v1h-1zM453 184h1v1h-1zM454 185h1v2h-1zM455 187h1v1h-1zM456 188h1v1h-1zM457 189h1v1h-1zM458 190h1v1h-1zM459 191h1v1h-1zM460 192h1v1h-1zM461 193h1v1h-1zM462 194h1v1h-1zM463 195h1v1h-1zM464 196h1v1h-1zM465 197h1v1h-1zM466 198h1v1h-1zM467 199h1v1h-1zM468 200h1v1h-1zM469 201h1v1h-1zM470 202h1v1h-1zM471 203h1v1h-1zM472 204h1v1h-1zM473 205h1v1h-1zM474 206h1v1h-1zM475 207h1v1h-1zM476 208h1v1h-1zM477 209h1v1h-1zM478 210h1v1h-1zM479 211h1v1h-1zM480 212h1v1h-1zM481 213h1v1h-1zM482 213h1v1h-1zM483 214h1v1h-1zM484 214h1v1h-1zM485 215h1v1h-1zM486 216h1v1h-1zM487 217h1v1h-1zM488 217h1v1h-1zM489 218h1v1h-1zM490 219h1v2h-1zM491 221h1v1h-1zM492 222h1v1h-1zM493 223h1v1h-1zM494 224h1v2h-1zM495 226h1v1h-1zM496 227h1v1h-1zM497 228h1v1h-1zM498 229h1v2h-1zM499 231h1v1h-1zM500 232h1v1h-1zM501 233h1v2h-1zM502 235h1v1h-1zM503 236h1v2h-1zM504 238h1v1h-1zM505 239h1v1h-1zM506 240h1v1h-1zM507 241h1v1h-1zM508 242h1v1h-1zM509 243h1v1h-1zM510 244h1v2h-1zM511 246h1v1h-1zM512 247h1v1h-1zM513 248h1v2h-1zM514 250h1v2h-1zM515 252h1v2h-1zM516 254h1v1h-1zM517 255h1v2h-1zM518 257h1v1h-1zM519 258h1v2h-1zM520 260h1v1h-1zM521 261h1v1h-1zM522 262h1v2h-1zM523 264h1v1h-1zM524 265h1v1h-1zM525 266h1v1h-1zM526 267h1v2h-1zM527 269h1v1h-1zM528 270h1v1h-1zM529 271h1v1h-1zM530 272h1v1h-1zM531 273h1v1h-1zM532 274h1v1h-1zM533 275h1v1h-1zM534 275h1v1h-1zM535 276h1v1h-1zM536 276h1v1h-1zM537 276h1v1h-1zM538 276h1v1h-1zM539 276h1v1h-1zM540 276h1v1h-1zM541 277h1v1h-1zM542 277h1v1h-1zM543 278h1v1h-1zM544 278h1v1h-1zM545 279h1v1h-1zM546 279h1v1h-1zM547 280h1v1h-1zM548 280h1v1h-1zM549 281h1v1h-1zM550 281h1v1h-1zM551 282h1v1h-1zM552 282h1v1h-1zM553 283h1v1h-1zM554 284h1v1h-1zM555 285h1v1h-1zM556 286h1v1h-1zM557 287h1v2h-1zM558 289h1v1h-1zM559 290h1v2h-1zM560 292h1v1h-1zM561 293h1v2h-1zM562 295h1v1h-1zM563 296h1v2h-1zM564 298h1v1h-1zM565 299h1v2h-1zM566 301h1v1h-1zM567 302h1v2h-1zM568 304h1v1h-1zM569 305h1v1h-1zM570 306h1v1h-1zM571 307h1v1h-1zM572 308h1v1h-1zM573 309h1v1h-1zM574 310h1v1h-1zM575 311h1v1h-1zM576 312h1v1h-1zM577 313h1v1h-1zM578 314h1v1h-1zM579 314h1v1h-1zM580 315h1v1h-1zM581 316h1v1h-1zM582 316h1v1h-1zM583 317h1v1h-1zM584 317h1v1h-1zM585 318h1v1h-1zM586 319h1v1h-1zM587 319h1v1h-1zM588 320h1v1h-1zM589 321h1v1h-1zM590 322h1v1h-1zM591 323h1v1h-1zM592 324h1v1h-1zM593 325h1v1h-1zM594 326h1v1h-1zM595 326h1v1h-1zM596 327h1v1h-1zM597 328h1v1h-1zM598 329h1v1h-1zM599 329h1v1h-1zM600 330h1v1h-1zM601 331h1v1h-1zM602 331h1v1h-1zM603 332h1v1h-1zM604 332h1v1h-1zM605 333h1v1h-1zM606 334h1v1h-1zM607 334h1v1h-1zM608 335h1v1h-1zM609 336h1v1h-1zM610 337h1v1h-1zM611 337h1v1h-1zM612 338h1v1h-1zM613 339h1v1h-1zM614 339h1v1h-1zM615 340h1v1h-1zM616 340h1v1h-1zM617 341h1v1h-1zM618 341h1v1h-1zM619 342h1v1h-1zM620 342h1v1h-1zM621 343h1v1h-1zM622 343h1v1h-1zM623 344h1v1h-1zM624 344h1v1h-1zM625 345h1v1h-1zM626 345h1v1h-1zM627 346h1v1h-1zM628 346h1v1h-1zM629 347h1v1h-1zM630 347h1v1h-1zM631 348h1v1h-1zM632 348h1v1h-1zM633 348h1v1h-1zM634 349h1v1h-1zM635 349h1v1h-1zM636 349h1v1h-1zM637 349h1v1h-1zM638 350h1v1h-1zM639 350h1v1h-1zM640 350h1v1h-1zM641 350h1v1h-1zM642 349h1v1h-1zM643 349h1v1h-1zM644 349h1v1h-1zM645 349h1v1h-1zM646 349h1v1h-1zM647 349h1v1h-1zM648 349h1v1h-1zM649 349h1v1h-1zM650 350h1v1h-1zM651 350h1v1h-1zM652 350h1v1h-1zM653 350h1v1h-1zM654 350h1v1h-1zM655 350h1v1h-1zM656 350h1v1h-1zM657 351h1v1h-1zM658 351h1v1h-1zM659 352h1v1h-1zM660 352h1v1h-1zM661 353h1v1h-1zM662 354h1v1h-1zM663 355h1v1h-1zM664 356h1v1h-1zM665 357h1v1h-1zM666 358h1v1h-1zM667 359h1v1h-1zM668 360h1v1h-1zM669 361h1v1h-1zM670 362h1v1h-1zM671 363h1v1h-1zM672 364h1v1h-1zM673 365h1v1h-1zM674 366h1v1h-1zM675 367h1v1h-1zM676 368h1v1h-1zM677 369h1v1h-1zM678 370h1v2h-1zM679 372h1v1h-1zM680 373h1v1h-1zM681 374h1v1h-1zM682 375h1v1h-1zM683 375h1v1h-1zM684 376h1v1h-1zM685 377h1v1h-1zM686 377h1v1h-1zM687 378h1v1h-1zM688 378h1v1h-1zM689 379h1v1h-1zM690 379h1v1h-1zM691 380h1v1h-1zM692 380h1v1h-1zM693 381h1v1h-1zM694 381h1v1h-1zM695 382h1v1h-1zM696 382h1v1h-1zM697 383h1v1h-1zM698 383h1v1h-1zM699 384h1v1h-1zM700 384h1v1h-1zM701 385h1v1h-1zM702 385h1v1h-1zM703 386h1v1h-1zM704 386h1v1h-1zM705 387h1v1h-1zM706 387h1v1h-1zM707 388h1v1h-1zM708 388h1v1h-1zM709 388h1v1h-1zM710 387h1v1h-1zM711 387h1v1h-1zM712 387h1v1h-1zM713 387h1v1h-1zM714 386h1v1h-1zM715 386h1v1h-1zM716 386h1v1h-1zM717 385h1v1h-1zM718 385h1v1h-1zM719 384h1v1h-1zM720 384h1v1h-1zM721 383h1v1h-1zM722 383h1v1h-1zM723 382h1v1h-1zM724 382h1v1h-1zM725 381h1v1h-1zM726 381h1v1h-1zM727 380h1v1h-1zM728 380h1v1h-1zM729 380h1v1h-1zM730 379h1v1h-1zM731 379h1v1h-1zM732 379h1v1h-1zM733 379h1v1h-1zM734 379h1v1h-1zM735 379h1v1h-1zM736 379h1v1h-1zM737 379h1v1h-1zM738 379h1v1h-1zM739 379h1v1h-1zM740 379h1v1h-1zM741 378h1v1h-1zM742 377h1v1h-1zM743 377h1v1h-1zM744 376h1v1h-1zM745 375h1v1h-1zM746 375h1v1h-1zM747 374h1v1h-1zM748 374h1v1h-1zM749 373h1v1h-1zM750 372h1v1h-1zM751 371h1v1h-1zM752 370h1v1h-1zM753 369h1v1h-1zM754 368h1v1h-1zM755 367h1v1h-1zM756 366h1v1h-1zM757 364h1v2h-1zM758 363h1v1h-1zM759 361h1v2h-1zM760 360h1v1h-1zM761 359h1v1h-1zM762 359h1v1h-1zM763 358h1v1h-1zM764 358h1v1h-1zM765 358h1v1h-1zM766 358h1v1h-1zM767 358h1v1h-1zM768 358h1v1h-1zM769 357h1v1h-1zM770 357h1v1h-1zM771 356h1v1h-1zM772 356h1v1h-1zM773 356h1v1h-1zM774 356h1v1h-1zM775 356h1v1h-1zM776 356h1v1h-1zM777 357h1v1h-1zM778 357h1v1h-1zM779 358h1v1h-1zM780 358h1v1h-1zM781 359h1v1h-1zM782 359h1v1h-1zM783 360h1v1h-1zM784 360h1v1h-1zM785 360h1v1h-1zM786 360h1v1h-1zM787 360h1v1h-1zM788 360h1v1h-1zM789 360h1v1h-1zM790 361h1v1h-1zM791 361h1v1h-1zM792 361h1v1h-1zM793 362h1v1h-1zM794 363h1v1h-1zM795 363h1v1h-1zM796 364h1v1h-1zM797 365h1v1h-1zM798 365h1v1h-1zM799 366h1v1h-1zM800 366h1v1h-1zM801 367h1v1h-1zM802 368h1v1h-1zM803 369h1v1h-1zM804 370h1v1h-1zM805 371h1v2h-1zM806 373h1v1h-1zM807 374h1v2h-1zM808 376h1v1h-1zM809 377h1v1h-1zM810 378h1v2h-1zM811 380h1v1h-1zM812 381h1v1h-1zM813 382h1v1h-1zM814 383h1v1h-1zM815 383h1v1h-1zM816 384h1v1h-1zM817 385h1v1h-1zM818 385h1v1h-1zM819 386h1v1h-1zM820 386h1v1h-1zM821 387h1v1h-1zM822 388h1v1h-1zM823 388h1v1h-1zM824 389h1v1h-1zM825 390h1v1h-1zM826 390h1v1h-1zM827 391h1v1h-1zM828 391h1v1h-1zM829 391h1v1h-1zM830 392h1v1h-1zM831 392h1v1h-1zM832 392h1v1h-1zM833 393h1v1h-1zM834 393h1v1h-1zM835 394h1v1h-1zM836 394h1v1h-1zM837 394h1v1h-1zM838 395h1v1h-1zM839 395h1v1h-1zM840 395h1v1h-1zM841 395h1v1h-1zM842 395h1v1h-1zM843 395h1v1h-1zM844 395h1v1h-1zM845 394h1v1h-1zM846 394h1v1h-1zM847 393h1v1h-1zM848 393h1v1h-1zM849 392h1v1h-1zM850 392h1v1h-1zM851 391h1v1h-1zM852 391h1v1h-1zM853 390h1v1h-1zM854 390h1v1h-1zM855 389h1v1h-1zM856 389h1v1h-1zM857 388h1v1h-1zM858 387h1v1h-1zM859 387h1v1h-1zM860 386h1v1h-1zM861 385h1v1h-1zM862 384h1v1h-1zM863 383h1v1h-1zM864 382h1v1h-1zM865 381h1v1h-1zM866 380h1v1h-1zM867 379h1v1h-1zM868 378h1v1h-1zM869 377h1v1h-1zM870 376h1v1h-1zM871 376h1v1h-1zM872 376h1v1h-1zM873 375h1v1h-1zM874 373h1v2h-1zM875 372h1v1h-1zM876 371h1v1h-1zM877 370h1v1h-1zM878 368h1v2h-1zM879 367h1v1h-1zM880 366h1v1h-1zM881 364h1v2h-1zM882 363h1v1h-1zM883 361h1v2h-1zM884 360h1v1h-1zM885 358h1v2h-1zM886 357h1v1h-1zM887 355h1v2h-1zM888 354h1v1h-1zM889 352h1v2h-1zM890 351h1v1h-1zM891 349h1v2h-1zM892 348h1v1h-1zM893 346h1v2h-1zM894 345h1v1h-1zM895 343h1v2h-1zM896 342h1v1h-1zM897 341h1v1h-1zM898 339h1v2h-1zM899 338h1v1h-1zM900 337h1v1h-1zM901 336h1v1h-1zM902 334h1v2h-1zM903 333h1v1h-1zM904 332h1v1h-1zM905 330h1v2h-1zM906 329h1v1h-1zM907 327h1v2h-1zM908 326h1v1h-1zM909 325h1v1h-1zM910 324h1v1h-1zM911 323h1v1h-1zM912 322h1v1h-1zM913 320h1v2h-1zM914 318h1v2h-1zM915 316h1v2h-1zM916 314h1v2h-1zM917 313h1v1h-1zM918 312h1v1h-1zM919 311h1v1h-1zM920 310h1v1h-1zM921 309h1v1h-1zM922 308h1v1h-1zM923 307h1v1h-1z" fill="#0000c8"/>
<path d="M4 208h1v1h-1zM5 208h1v1h-1zM6 208h1v1h-1zM7 208h1v1h-1zM8 208h1v1h-1zM9 208h1v1h-1zM10 208h1v1h-1zM11 208h1v1h-1zM12 208h1v1h-1zM13 208h1v1h-1zM14 207h1v1h-1zM15 207h1v1h-1zM16 207h1v1h-1zM17 207h1v1h-1zM18 206h1v1h-1zM19 206h1v1h-1zM20 206h1v1h-1zM21 205h1v1h-1zM22 205h1v1h-1zM23 204h1v1h-1zM24 204h1v1h-1zM25 203h1v1h-1zM26 203h1v1h-1zM27 202h1v1h-1zM28 202h1v1h-1zM29 201h1v1h-1zM30 200h1v1h-1zM31 199h1v1h-1zM32 198h1v1h-1zM33 197h1v1h-1zM34 196h1v1h-1zM35 195h1v1h-1zM36 194h1v1h-1zM37 193h1v1h-1zM38 192h1v1h-1zM39 191h1v1h-1zM40 190h1v1h-1zM41 188h1v2h-1zM42 187h1v1h-1zM43 185h1v2h-1zM44 184h1v1h-1zM45 182h1v2h-1zM46 181h1v1h-1zM47 179h1v2h-1zM48 178h1v1h-1zM49 176h1v2h-1zM50 174h1v2h-1zM51 172h1v2h-1zM52 169h1v3h-1zM53 167h1v2h-1zM54 164h1v3h-1zM55 162h1v2h-1zM56 160h1v2h-1zM57 158h1v2h-1zM58 156h1v2h-1zM59 154h1v2h-1zM60 152h1v2h-1zM61 150h1v2h-1zM62 148h1v2h-1zM63 146h1v2h-1zM64 144h1v2h-1zM65 142h1v2h-1zM66 140h1v2h-1zM67 138h1v2h-1zM68 136h1v2h-1zM69 135h1v1h-1zM70 135h1v1h-1zM71 136h1v1h-1zM72 136h1v1h-1zM73 136h1v1h-1zM74 137h1v1h-1zM75 137h1v1h-1zM76 137h1v1h-1zM77 137h1v1h-1zM78 136h1v1h-1zM79 136h1v1h-1zM80 136h1v1h-1zM81 135h1v1h-1zM82 135h1v1h-1zM83 134h1v1h-1zM84 134h1v1h-1zM85 133h1v1h-1zM86 133h1v1h-1zM87 132h1v1h-1zM88 132h1v1h-1zM89 132h1v1h-1zM90 132h1v1h-1zM91 132h1v1h-1zM92 132h1v1h-1zM93 133h1v1h-1zM94 133h1v1h-1zM95 134h1v1h-1zM96 134h1v1h-1zM97 135h1v1h-1zM98 135h1v1h-1zM99 136h1v1h-1zM100 136h1v1h-1zM101 137h1v2h-1zM102 139h1v1h-1zM103 140h1v2h-1zM104 142h1v1h-1zM105 143h1v2h-1zM106 145h1v1h-1zM107 146h1v2h-1zM108 148h1v1h-1zM109 149h1v2h-1zM110 151h1v1h-1zM111 152h1v2h-1zM112 154h1v1h-1zM113 155h1v1h-1zM114 156h1v2h-1zM115 158h1v1h-1zM116 159h1v1h-1zM117 160h1v1h-1zM118 161h1v2h-1zM119 163h1v1h-1zM120 164h1v1h-1zM121 165h1v2h-1zM122 167h1v2h-1zM123 169h1v2h-1zM124 171h1v1h-1zM125 170h1v1h-1zM126 170h1v1h-1zM127 171h1v1h-1zM128 172h1v1h-1zM129 173h1v1h-1zM130 173h1v1h-1zM131 174h1v1h-1zM132 174h1v1h-1zM133 175h1v1h-1zM134 175h1v1h-1zM135 176h1v1h-1zM136 176h1v1h-1zM137 177h1v1h-1zM138 177h1v1h-1zM139 178h1v1h-1zM140 178h1v1h-1zM141 177h1v1h-1zM142 177h1v1h-1zM143 176h1v1h-1zM144 176h1v1h-1zM145 177h1v1h-1zM146 177h1v1h-1zM147 178h1v1h-1zM148 178h1v1h-1zM149 178h1v1h-1zM150 178h1v1h-1zM151 176h1v2h-1zM152 174h1v2h-1zM153 175h1v1h-1zM154 175h1v1h-1zM155 176h1v1h-1zM156 176h1v1h-1zM157 177h1v1h-1zM158 177h1v1h-1zM159 178h1v1h-1zM160 178h1v1h-1zM161 179h1v1h-1zM162 180h1v1h-1zM163 181h1v1h-1zM164 182h1v1h-1zM165 183h1v1h-1zM166 184h1v1h-1zM167 185h1v1h-1zM168 186h1v1h-1zM169 187h1v1h-1zM170 188h1v1h-1zM171 189h1v1h-1zM172 190h1v1h-1zM173 191h1v1h-1zM174 192h1v1h-1zM175 193h1v1h-1zM176 194h1v1h-1zM177 195h1v2h-1zM178 197h1v1h-1zM179 198h1v2h-1zM180 200h1v1h-1zM181 201h1v1h-1zM182 202h1v1h-1zM183 203h1v1h-1zM184 204h1v1h-1zM185 205h1v1h-1zM186 205h1v1h-1zM187 206h1v1h-1zM188 206h1v1h-1zM189 207h1v1h-1zM190 208h1v1h-1zM191 209h1v1h-1zM192 210h1v1h-1zM193 211h1v1h-1zM194 212h1v1h-1zM195 213h1v1h-1zM196 214h1v1h-1zM197 215h1v1h-1zM198 216h1v1h-1zM199 217h1v1h-1zM200 217h1v1h-1zM201 218h1v1h-1zM202 219h1v1h-1zM203 219h1v1h-1zM204 220h1v1h-1zM205 221h1v2h-1zM206 223h1v2h-1zM207 225h1v1h-1zM208 226h1v1h-1zM209 227h1v1h-1zM210 227h1v1h-1zM211 228h1v1h-1zM212 228h1v1h-1zM213 228h1v1h-1zM214 228h1v1h-1zM215 228h1v1h-1zM216 228h1v1h-1zM217 227h1v1h-1zM218 227h1v1h-1zM219 226h1v1h-1zM220 226h1v1h-1zM221 226h1v1h-1zM222 226h1v1h-1zM223 226h1v1h-1zM224 226h1v1h-1zM225 226h1v1h-1zM226 226h1v1h-1zM227 226h1v1h-1zM228 226h1v1h-1zM229 225h1v1h-1zM230 224h1v1h-1zM231 223h1v1h-1zM232 222h1v1h-1zM233 221h1v1h-1zM234 220h1v1h-1zM235 219h1v1h-1zM236 218h1v1h-1zM237 217h1v1h-1zM238 216h1v1h-1zM239 215h1v1h-1zM240 214h1v1h-1zM241 213h1v1h-1zM242 212h1v1h-1zM243 211h1v1h-1zM244 210h1v1h-1zM245 208h1v2h-1zM246 207h1v1h-1zM247 205h1v2h-1zM248 204h1v1h-1zM249 203h1v1h-1zM250 202h1v1h-1zM251 201h1v1h-1zM252 200h1v1h-1zM253 199h1v1h-1zM254 199h1v1h-1zM255 198h1v1h-1zM256 198h1v1h-1zM257 197h1v1h-1zM258 196h1v1h-1zM259 196h1v1h-1zM260 195h1v1h-1zM261 194h1v1h-1zM262 192h1v2h-1zM263 191h1v1h-1zM264 190h1v1h-1zM265 188h1v2h-1zM266 187h1v1h-1zM267 185h1v2h-1zM268 184h1v1h-1zM269 183h1v1h-1zM270 182h1v1h-1zM271 181h1v1h-1zM272 180h1v1h-1zM273 179h1v1h-1zM274 178h1v1h-1zM275 177h1v1h-1zM276 176h1v1h-1zM277 175h1v1h-1zM278 174h1v1h-1zM279 173h1v1h-1zM280 172h1v1h-1zM281 171h1v1h-1zM282 170h1v1h-1zM283 169h1v1h-1zM284 168h1v1h-1zM285 168h1v1h-1zM286 168h1v1h-1zM287 168h1v1h-1zM288 168h1v1h-1zM289 168h1v1h-1zM290 169h1v1h-1zM291 169h1v1h-1zM292 169h1v1h-1zM293 169h1v1h-1zM294 168h1v1h-1zM295 168h1v1h-1zM296 168h1v1h-1zM297 168h1v1h-1zM298 168h1v1h-1zM299 168h1v1h-1zM300 168h1v1h-1zM301 168h1v1h-1zM302 168h1v1h-1zM303 168h1v1h-1zM304 168h1v1h-1zM305 167h1v1h-1zM306 167h1v1h-1zM307 166h1v1h-1zM308 166h1v1h-1zM309 165h1v1h-1zM310 164h1v1h-1zM311 163h1v1h-1zM312 162h1v1h-1zM313 161h1v1h-1zM314 160h1v1h-1zM315 160h1v1h-1zM316 159h1v1h-1zM317 158h1v1h-1zM318 157h1v1h-1zM319 157h1v1h-1zM320 156h1v1h-1zM321 155h1v1h-1zM322 155h1v1h-1zM323 154h1v1h-1zM324 154h1v1h-1zM325 154h1v1h-1zM326 154h1v1h-1zM327 155h1v1h-1zM328 156h1v1h-1zM329 157h1v1h-1zM330 157h1v1h-1zM331 158h1v1h-1zM332 158h1v1h-1zM333 157h1v1h-1zM334 157h1v1h-1zM335 156h1v1h-1zM336 156h1v1h-1zM337 156h1v1h-1zM338 156h1v1h-1zM339 156h1v1h-1zM340 156h1v1h-1zM341 155h1v1h-1zM342 155h1v1h-1zM343 154h1v1h-1zM344 154h1v1h-1zM345 153h1v1h-1zM346 153h1v1h-1zM347 152h1v1h-1zM348 152h1v1h-1zM349 151h1v1h-1zM350 151h1v1h-1zM351 150h1v1h-1zM352 150h1v1h-1zM353 150h1v1h-1zM354 149h1v1h-1zM355 149h1v1h-1zM356 149h1v1h-1zM357 149h1v1h-1zM358 150h1v1h-1zM359 150h1v1h-1zM360 150h1v1h-1zM361 151h1v1h-1zM362 151h1v1h-1zM363 152h1v1h-1zM364 152h1v1h-1zM365 153h1v1h-1zM366 154h1v1h-1zM367 154h1v1h-1zM368 155h1v1h-1zM369 156h1v1h-1zM370 157h1v2h-1zM371 159h1v1h-1zM372 160h1v1h-1zM373 161h1v1h-1zM374 162h1v1h-1zM375 163h1v1h-1zM376 164h1v1h-1zM377 165h1v1h-1zM378 165h1v1h-1zM379 166h1v1h-1zM380 166h1v1h-1zM381 167h1v1h-1zM382 167h1v1h-1zM383 168h1v1h-1zM384 168h1v1h-1zM385 168h1v1h-1zM386 168h1v1h-1zM387 168h1v1h-1zM388 168h1v1h-1zM389 169h1v1h-1zM390 169h1v1h-1zM391 170h1v1h-1zM392 170h1v1h-1zM393 170h1v1h-1zM394 170h1v1h-1zM395 170h1v1h-1zM396 170h1v1h-1zM397 170h1v1h-1zM398 171h1v1h-1zM399 171h1v1h-1zM400 171h1v1h-1zM401 172h1v1h-1zM402 172h1v1h-1zM403 173h1v1h-1zM404 174h1v1h-1zM405 175h1v1h-1zM406 175h1v1h-1zM407 176h1v1h-1zM408 176h1v1h-1zM409 177h1v1h-1zM410 177h1v1h-1zM411 178h1v1h-1zM412 178h1v1h-1zM413 177h1v1h-1zM414 177h1v1h-1zM415 176h1v1h-1zM416 176h1v1h-1zM417 176h1v1h-1zM418 175h1v1h-1zM419 175h1v1h-1zM420 175h1v1h-1zM421 175h1v1h-1zM422 175h1v1h-1zM423 175h1v1h-1zM424 175h1v1h-1zM425 175h1v1h-1zM426 176h1v1h-1zM427 176h1v1h-1zM428 176h1v1h-1zM429 176h1v1h-1zM430 176h1v1h-1zM431 176h1v1h-1zM432 176h1v1h-1zM433 177h1v1h-1zM434 177h1v1h-1zM435 178h1v1h-1zM436 178h1v1h-1zM437 179h1v1h-1zM438 179h1v1h-1zM439 180h1v1h-1zM440 180h1v1h-1zM441 180h1v1h-1zM442 180h1v1h-1zM443 180h1v1h-1zM444 180h1v1h-1zM445 180h1v1h-1zM446 181h1v1h-1zM447 181h1v1h-1zM448 181h1v1h-1zM449 182h1v1h-1zM450 183h1v2h-1zM451 185h1v1h-1zM452 186h1v1h-1zM453 187h1v2h-1zM454 189h1v2h-1zM455 191h1v2h-1zM456 193h1v2h-1zM457 195h1v2h-1zM458 197h1v1h-1zM459 198h1v2h-1zM460 200h1v1h-1zM461 201h1v2h-1zM462 203h1v2h-1zM463 205h1v2h-1zM464 207h1v2h-1zM465 209h1v2h-1zM466 211h1v1h-1zM467 212h1v2h-1zM468 214h1v1h-1zM469 215h1v2h-1zM470 217h1v1h-1zM471 218h1v2h-1zM472 220h1v1h-1zM473 221h1v1h-1zM474 222h1v2h-1zM475 224h1v1h-1zM476 225h1v1h-1zM477 226h1v1h-1zM478 227h1v2h-1zM479 229h1v1h-1zM480 230h1v1h-1zM481 231h1v2h-1zM482 233h1v1h-1zM483 234h1v2h-1zM484 236h1v1h-1zM485 237h1v1h-1zM486 238h1v1h-1zM487 239h1v1h-1zM488 240h1v1h-1zM489 241h1v2h-1zM490 243h1v1h-1zM491 244h1v2h-1zM492 246h1v1h-1zM493 247h1v2h-1zM494 249h1v1h-1zM495 250h1v2h-1zM496 252h1v1h-1zM497 253h1v2h-1zM498 255h1v1h-1zM499 256h1v2h-1zM500 258h1v1h-1zM501 259h1v2h-1zM502 261h1v2h-1zM503 263h1v2h-1zM504 265h1v2h-1zM505 267h1v2h-1zM506 269h1v1h-1zM507 269h1v1h-1zM508 269h1v1h-1zM509 269h1v1h-1zM510 268h1v1h-1zM511 268h1v1h-1zM512 268h1v1h-1zM513 268h1v1h-1zM514 268h1v1h-1zM515 268h1v1h-1zM516 268h1v1h-1zM517 268h1v1h-1zM518 269h1v1h-1zM519 269h1v1h-1zM520 269h1v1h-1zM521 270h1v1h-1zM522 271h1v1h-1zM523 271h1v1h-1zM524 272h1v1h-1zM525 273h1v1h-1zM526 274h1v1h-1zM527 275h1v1h-1zM528 276h1v1h-1zM529 277h1v1h-1zM530 278h1v1h-1zM531 279h1v1h-1zM532 280h1v1h-1zM533 281h1v1h-1zM534 282h1v1h-1zM535 283h1v1h-1zM536 284h1v1h-1zM537 285h1v1h-1zM538 286h1v1h-1zM539 287h1v1h-1zM540 288h1v1h-1zM541 289h1v1h-1zM542 289h1v1h-1zM543 290h1v1h-1zM544 290h1v1h-1zM545 291h1v1h-1zM546 292h1v1h-1zM547 293h1v1h-1zM548 294h1v1h-1zM549 295h1v1h-1zM550 295h1v1h-1zM551 296h1v1h-1zM552 296h1v1h-1zM553 297h1v1h-1zM554 297h1v1h-1zM555 298h1v1h-1zM556 298h1v1h-1zM557 299h1v2h-1zM558 301h1v1h-1zM559 302h1v2h-1zM560 304h1v1h-1zM561 305h1v2h-1zM562 307h1v1h-1zM563 308h1v2h-1zM564 310h1v1h-1zM565 311h1v2h-1zM566 313h1v1h-1zM567 314h1v2h-1zM568 316h1v1h-1zM569 317h1v2h-1zM570 319h1v1h-1zM571 320h1v2h-1zM572 322h1v1h-1zM573 323h1v1h-1zM574 324h1v1h-1zM575 324h1v1h-1zM576 325h1v1h-1zM577 325h1v1h-1zM578 326h1v1h-1zM579 326h1v1h-1zM580 326h1v1h-1zM581 327h1v1h-1zM582 328h1v1h-1zM583 329h1v1h-1zM584 330h1v1h-1zM585 331h1v2h-1zM586 333h1v1h-1zM587 334h1v2h-1zM588 336h1v1h-1zM589 337h1v1h-1zM590 338h1v1h-1zM591 339h1v1h-1zM592 340h1v1h-1zM593 341h1v1h-1zM594 341h1v1h-1zM595 342h1v1h-1zM596 342h1v1h-1zM597 343h1v1h-1zM598 344h1v1h-1zM599 345h1v1h-1zM600 346h1v1h-1zM601 347h1v1h-1zM602 347h1v1h-1zM603 348h1v1h-1zM604 348h1v1h-1zM605 349h1v1h-1zM606 349h1v1h-1zM607 350h1v1h-1zM608 350h1v1h-1zM609 350h1v1h-1zM610 350h1v1h-1zM611 350h1v1h-1zM612 350h1v1h-1zM613 350h1v1h-1zM614 350h1v1h-1zM615 350h1v1h-1zM616 350h1v1h-1zM617 349h1v1h-1zM618 349h1v1h-1zM619 348h1v1h-1zM620 348h1v1h-1zM621 347h1v1h-1zM622 346h1v1h-1zM623 347h1v1h-1zM624 347h1v1h-1zM625 347h1v1h-1zM626 348h1v1h-1zM627 348h1v1h-1zM628 348h1v1h-1zM629 348h1v1h-1zM630 348h1v1h-1zM631 348h1v1h-1zM632 348h1v1h-1zM633 349h1v1h-1zM634 349h1v1h-1zM635 350h1v1h-1zM636 350h1v1h-1zM637 350h1v1h-1zM638 350h1v1h-1zM639 350h1v1h-1zM640 350h1v1h-1zM641 350h1v1h-1zM642 350h1v1h-1zM643 350h1v1h-1zM644 350h1v1h-1zM645 350h1v1h-1zM646 350h1v1h-1zM647 350h1v1h-1zM648 350h1v1h-1zM649 350h1v1h-1zM650 350h1v1h-1zM651 350h1v1h-1zM652 350h1v1h-1zM653 350h1v1h-1zM654 350h1v1h-1zM655 350h1v1h-1zM656 350h1v1h-1zM657 351h1v1h-1zM658 351h1v1h-1zM659 352h1v1h-1zM660 352h1v1h-1zM661 353h1v2h-1zM662 355h1v1h-1zM663 356h1v2h-1zM664 358h1v1h-1zM665 359h1v2h-1zM666 361h1v1h-1zM667 362h1v2h-1zM668 364h1v1h-1zM669 365h1v2h-1zM670 367h1v2h-1zM671 369h1v2h-1zM672 371h1v2h-1zM673 373h1v2h-1zM674 375h1v2h-1zM675 377h1v2h-1zM676 379h1v2h-1zM677 381h1v2h-1zM678 383h1v1h-1zM679 384h1v2h-1zM680 386h1v1h-1zM681 387h1v1h-1zM682 388h1v1h-1zM683 389h1v1h-1zM684 390h1v1h-1zM685 391h1v1h-1zM686 392h1v1h-1zM687 392h1v1h-1zM688 393h1v1h-1zM689 394h1v1h-1zM690 395h1v1h-1zM691 395h1v1h-1zM692 396h1v1h-1zM693 397h1v1h-1zM694 397h1v1h-1zM695 398h1v1h-1zM696 398h1v1h-1zM697 399h1v1h-1zM698 400h1v1h-1zM699 401h1v1h-1zM700 402h1v1h-1zM701 403h1v1h-1zM702 403h1v1h-1zM703 404h1v1h-1zM704 404h1v1h-1zM705 404h1v1h-1zM706 405h1v1h-1zM707 405h1v1h-1zM708 405h1v1h-1zM709 405h1v1h-1zM710 404h1v1h-1zM711 404h1v1h-1zM712 404h1v1h-1zM713 402h1v2h-1zM714 401h1v1h-1zM715 399h1v2h-1zM716 398h1v1h-1zM717 396h1v2h-1zM718 395h1v1h-1zM719 393h1v2h-1zM720 392h1v1h-1zM721 390h1v2h-1zM722 387h1v3h-1zM723 384h1v3h-1zM724 382h1v2h-1zM725 380h1v2h-1zM726 377h1v3h-1zM727 374h1v3h-1zM728 372h1v2h-1zM729 370h1v2h-1zM730 368h1v2h-1zM731 366h1v2h-1zM732 364h1v2h-1zM733 362h1v2h-1zM734 361h1v1h-1zM735 359h1v2h-1zM736 358h1v1h-1zM737 357h1v1h-1zM738 356h1v1h-1zM739 355h1v1h-1zM740 354h1v1h-1zM741 353h1v1h-1zM742 352h1v1h-1zM743 351h1v1h-1zM744 350h1v1h-1zM745 349h1v1h-1zM746 348h1v1h-1zM747 347h1v1h-1zM748 346h1v1h-1zM749 345h1v1h-1zM750 345h1v1h-1zM751 344h1v1h-1zM752 344h1v1h-1zM753 344h1v1h-1zM754 344h1v1h-1zM755 344h1v1h-1zM756 344h1v1h-1zM757 344h1v1h-1zM758 343h1v1h-1zM759 343h1v1h-1zM760 343h1v1h-1zM761 343h1v1h-1zM762 344h1v1h-1zM763 344h1v1h-1zM764 344h1v1h-1zM765 345h1v1h-1zM766 345h1v1h-1zM767 346h1v1h-1zM768 346h1v1h-1zM769 347h1v1h-1zM770 348h1v1h-1zM771 349h1v1h-1zM772 350h1v1h-1zM773 351h1v2h-1zM774 353h1v1h-1zM775 354h1v2h-1zM776 356h1v1h-1zM777 357h1v2h-1zM778 359h1v2h-1zM779 361h1v2h-1zM780 363h1v2h-1zM781 365h1v1h-1zM782 366h1v1h-1zM783 367h1v1h-1zM784 368h1v1h-1zM785 369h1v2h-1zM786 371h1v1h-1zM787 372h1v2h-1zM788 374h1v1h-1zM789 375h1v1h-1zM790 376h1v1h-1zM791 377h1v1h-1zM792 378h1v1h-1zM793 379h1v1h-1zM794 380h1v1h-1zM795 380h1v1h-1zM796 381h1v1h-1zM797 382h1v1h-1zM798 383h1v1h-1zM799 383h1v1h-1zM800 384h1v1h-1zM801 385h1v1h-1zM802 386h1v1h-1zM803 387h1v1h-1zM804 388h1v1h-1zM805 389h1v2h-1zM806 391h1v2h-1zM807 393h1v2h-1zM808 395h1v2h-1zM809 397h1v1h-1zM810 397h1v1h-1zM811 398h1v1h-1zM812 398h1v1h-1zM813 399h1v1h-1zM814 399h1v1h-1zM815 400h1v1h-1zM816 400h1v1h-1zM817 400h1v1h-1zM818 401h1v1h-1zM819 401h1v1h-1zM820 401h1v1h-1zM821 401h1v1h-1zM822 400h1v1h-1zM823 400h1v1h-1zM824 400h1v1h-1zM825 400h1v1h-1zM826 400h1v1h-1zM827 400h1v1h-1zM828 400h1v1h-1zM829 400h1v1h-1zM830 400h1v1h-1zM831 400h1v1h-1zM832 400h1v1h-1zM833 399h1v1h-1zM834 398h1v1h-1zM835 397h1v1h-1zM836 396h1v1h-1zM837 396h1v1h-1zM838 396h1v1h-1zM839 396h1v1h-1zM840 396h1v1h-1zM841 395h1v1h-1zM842 395h1v1h-1zM843 394h1v1h-1zM844 394h1v1h-1zM845 393h1v1h-1zM846 392h1v1h-1zM847 391h1v1h-1zM848 390h1v1h-1zM849 389h1v1h-1zM850 388h1v1h-1zM851 387h1v1h-1zM852 386h1v1h-1zM853 385h1v1h-1zM854 385h1v1h-1zM855 384h1v1h-1zM856 384h1v1h-1zM857 382h1v2h-1zM858 381h1v1h-1zM859 379h1v2h-1zM860 378h1v1h-1zM861 376h1v2h-1zM862 375h1v1h-1zM863 373h1v2h-1zM864 372h1v1h-1zM865 370h1v2h-1zM866 369h1v1h-1zM867 367h1v2h-1zM868 366h1v1h-1zM869 364h1v2h-1zM870 362h1v2h-1zM871 360h1v2h-1zM872 359h1v1h-1zM873 357h1v2h-1zM874 355h1v2h-1zM875 353h1v2h-1zM876 352h1v1h-1zM877 350h1v2h-1zM878 348h1v2h-1zM879 346h1v2h-1zM880 344h1v2h-1zM881 342h1v2h-1zM882 341h1v1h-1zM883 339h1v2h-1zM884 338h1v1h-1zM885 336h1v2h-1zM886 335h1v1h-1zM887 333h1v2h-1zM888 332h1v1h-1zM889 330h1v2h-1zM890 329h1v1h-1zM891 327h1v2h-1zM892 326h1v1h-1zM893 324h1v2h-1zM894 322h1v2h-1zM895 320h1v2h-1zM896 319h1v1h-1zM897 317h1v2h-1zM898 315h1v2h-1zM899 313h1v2h-1zM900 312h1v1h-1zM901 311h1v1h-1zM902 309h1v2h-1zM903 308h1v1h-1zM904 307h1v1h-1zM905 306h1v1h-1zM906 304h1v2h-1zM907 303h1v1h-1zM908 302h1v1h-1zM909 301h1v1h-1zM910 300h1v1h-1zM911 299h1v1h-1zM912 298h1v1h-1zM913 297h1v1h-1zM914 296h1v1h-1zM915 295h1v1h-1zM916 294h1v1h-1zM917 293h1v1h-1zM918 292h1v1h-1zM919 291h1v1h-1zM920 290h1v1h-1zM921 289h1v1h-1zM922 288h1v1h-1zM923 288h1v1h-1z" fill="#ff0000"/>
<rect x="4" y="180" width="1162" height="2" fill="#ff0000"/>
<rect x="4" y="250" width="1162" height="2" fill="#ff0000"/>
<rect x="4" y="331" width="1162" height="2" fill="#00ff00"/>
<rect x="4" y="406" width="1162" height="2" fill="#0000ff"/>
<rect x="4" y="477" width="1162" height="2" fill="#0000ff"/>
<rect x="4" y="481" width="1162" height="2" fill="#ff0000"/>
<path d="M24 162h1v21h-1zM23 163h3v5h-3zM36 142h1v29h-1zM35 152h3v4h-3zM40 154h1v26h-1zM39 156h3v20h-3zM72 102h1v75h-1zM71 102h3v68h-3zM76 166h1v23h-1zM75 170h3v17h-3zM88 126h1v32h-1zM87 138h3v8h-3zM96 138h1v91h-1zM95 144h3v66h-3zM104 181h1v41h-1zM103 193h3v14h-3zM120 144h1v36h-1zM119 160h3v8h-3zM128 156h1v32h-1zM127 166h3v14h-3zM136 164h1v26h-1zM135 169h3v19h-3zM144 142h1v42h-1zM143 146h3v24h-3zM156 164h1v49h-1zM155 168h3v32h-3zM160 200h1v47h-1zM159 200h3v28h-3zM164 225h1v31h-1zM163 228h3v26h-3zM172 222h1v10h-1zM171 225h3v3h-3zM180 208h1v32h-1zM179 218h3v18h-3zM188 230h1v40h-1zM187 233h3v5h-3zM196 237h1v3h-1zM195 238h3v1h-3zM208 202h1v30h-1zM207 210h3v16h-3zM216 210h1v34h-1zM215 220h3v4h-3zM220 223h1v5h-1zM219 224h3v3h-3zM224 222h1v20h-1zM223 228h3v2h-3zM240 163h1v17h-1zM239 170h3v6h-3zM244 174h1v4h-1zM243 175h3v2h-3zM252 136h1v42h-1zM251 164h3v9h-3zM260 162h1v26h-1zM259 165h3v16h-3zM276 141h1v21h-1zM275 143h3v13h-3zM280 154h1v26h-1zM279 156h3v4h-3zM284 135h1v33h-1zM283 159h3v5h-3zM288 151h1v39h-1zM287 164h3v20h-3zM292 182h1v9h-1zM291 184h3v7h-3zM300 160h1v44h-1zM299 164h3v34h-3zM316 115h1v12h-1zM315 115h3v7h-3zM324 108h1v26h-1zM323 108h3v16h-3zM328 121h1v55h-1zM327 124h3v52h-3zM332 169h1v29h-1zM331 176h3v6h-3zM344 152h1v26h-1zM343 154h3v7h-3zM352 141h1v35h-1zM351 152h3v15h-3zM360 152h1v26h-1zM359 154h3v24h-3zM380 164h1v16h-1zM379 171h3v4h-3zM384 170h1v33h-1zM383 174h3v16h-3zM400 157h1v27h-1zM399 161h3v7h-3zM404 165h1v51h-1zM403 167h3v48h-3zM420 160h1v17h-1zM419 161h3v12h-3zM424 162h1v18h-1zM423 172h3v6h-3zM432 155h1v42h-1zM431 167h3v27h-3zM444 183h1v21h-1zM443 183h3v21h-3zM452 182h1v80h-1zM451 186h3v74h-3zM456 257h1v39h-1zM455 260h3v27h-3zM468 264h1v25h-1zM467 272h3v2h-3zM476 242h1v14h-1zM475 244h3v8h-3zM484 241h1v7h-1zM483 241h3v5h-3zM488 238h1v22h-1zM487 245h3v7h-3zM492 250h1v33h-1zM491 250h3v28h-3zM496 274h1v16h-1zM495 278h3v11h-3zM500 282h1v22h-1zM499 288h3v12h-3zM516 240h1v52h-1zM515 271h3v17h-3zM520 270h1v34h-1zM519 287h3v6h-3zM524 282h1v44h-1zM523 293h3v23h-3zM540 284h1v36h-1zM539 291h3v9h-3zM544 292h1v27h-1zM543 299h3v3h-3zM548 292h1v26h-1zM547 301h3v16h-3zM552 313h1v21h-1zM551 316h3v14h-3zM556 325h1v9h-1zM555 328h3v4h-3zM560 335h1v33h-1zM559 337h3v23h-3zM564 353h1v27h-1zM563 360h3v8h-3zM576 338h1v16h-1zM575 350h3v1h-3zM588 338h1v24h-1zM587 340h3v8h-3zM592 345h1v25h-1zM591 348h3v10h-3zM600 331h1v29h-1zM599 332h3v24h-3zM604 356h1v9h-1zM603 356h3v9h-3zM616 320h1v28h-1zM615 340h3v4h-3zM624 328h1v31h-1zM623 330h3v25h-3zM628 352h1v4h-1zM627 354h3v2h-3zM644 338h1v26h-1zM643 346h3v14h-3zM652 342h1v6h-1zM651 344h3v2h-3zM656 346h1v26h-1zM655 347h3v15h-3zM660 360h1v42h-1zM659 362h3v40h-3zM664 394h1v20h-1zM663 402h3v10h-3zM668 397h1v57h-1zM667 411h3v31h-3zM672 441h1v31h-1zM671 442h3v18h-3zM692 389h1v19h-1zM691 396h3v9h-3zM704 372h1v16h-1zM703 375h3v9h-3zM728 308h1v13h-1zM727 309h3v8h-3zM732 301h1v45h-1zM731 316h3v20h-3zM736 331h1v27h-1zM735 336h3v12h-3zM744 328h1v24h-1zM743 342h3v8h-3zM748 346h1v6h-1zM747 348h3v3h-3zM756 345h1v25h-1zM755 347h3v18h-3zM760 360h1v20h-1zM759 364h3v5h-3zM764 358h1v34h-1zM763 369h3v18h-3zM768 370h1v26h-1zM767 386h3v6h-3zM772 390h1v6h-1zM771 392h3v2h-3zM776 395h1v23h-1zM775 398h3v8h-3zM780 388h1v30h-1zM779 405h3v3h-3zM792 372h1v38h-1zM791 382h3v18h-3zM796 396h1v6h-1zM795 400h3v2h-3zM804 375h1v39h-1zM803 388h3v23h-3zM808 398h1v38h-1zM807 410h3v22h-3zM820 392h1v4h-1zM819 394h3v2h-3zM832 380h1v36h-1zM831 382h3v20h-3zM840 362h1v24h-1zM839 370h3v7h-3zM852 340h1v26h-1zM851 348h3v2h-3zM864 314h1v18h-1zM863 324h3v3h-3zM872 319h1v25h-1zM871 322h3v4h-3zM884 264h1v32h-1zM883 280h3v10h-3zM888 280h1v28h-1zM887 290h3v14h-3zM912 259h1v27h-1zM911 264h3v18h-3zM924 268h1v12h-1zM923 270h3v6h-3z" fill="#32cd32"/>
<path d="M4 205h1v9h-1zM3 206h3v6h-3zM8 184h1v30h-1zM7 187h3v18h-3zM12 174h1v21h-1zM11 179h3v7h-3zM16 165h1v21h-1zM15 176h3v4h-3zM20 157h1v29h-1zM19 163h3v14h-3zM28 161h1v10h-1zM27 165h3v3h-3zM32 150h1v15h-1zM31 152h3v12h-3zM44 149h1v32h-1zM43 172h3v4h-3zM48 112h1v62h-1zM47 114h3v59h-3zM52 107h1v11h-1zM51 113h3v2h-3zM56 102h1v17h-1zM55 102h3v10h-3zM60 102h1v5h-1zM80 150h1v36h-1zM79 152h3v30h-3zM84 137h1v37h-1zM83 138h3v14h-3zM92 137h1v29h-1zM91 144h3v2h-3zM100 195h1v19h-1zM99 196h3v12h-3zM108 182h1v47h-1zM107 192h3v16h-3zM112 170h1v36h-1zM111 185h3v8h-3zM116 152h1v38h-1zM115 160h3v26h-3zM124 156h1v16h-1zM123 164h3v5h-3zM132 163h1v23h-1zM131 169h3v9h-3zM140 120h1v73h-1zM139 147h3v41h-3zM148 164h1v8h-1zM147 168h3v3h-3zM152 165h1v25h-1zM151 168h3v14h-3zM168 220h1v34h-1zM167 225h3v29h-3zM176 212h1v20h-1zM175 218h3v3h-3zM184 221h1v25h-1zM183 233h3v3h-3zM192 229h1v9h-1zM191 231h3v7h-3zM200 210h1v30h-1zM199 212h3v21h-3zM204 208h1v28h-1zM203 210h3v3h-3zM212 215h1v23h-1zM211 220h3v6h-3zM228 224h1v22h-1zM227 225h3v5h-3zM232 176h1v50h-1zM231 178h3v47h-3zM236 162h1v26h-1zM235 170h3v8h-3zM248 151h1v37h-1zM247 164h3v16h-3zM256 162h1v30h-1zM255 165h3v8h-3zM264 170h1v27h-1zM263 173h3v8h-3zM268 164h1v12h-1zM267 164h3v10h-3zM272 137h1v35h-1zM271 143h3v27h-3zM296 160h1v28h-1zM295 164h3v20h-3zM304 165h1v33h-1zM303 168h3v30h-3zM308 156h1v36h-1zM307 160h3v10h-3zM312 115h1v48h-1zM311 115h3v45h-3zM320 101h1v26h-1zM319 108h3v12h-3zM336 153h1v35h-1zM335 155h3v27h-3zM340 150h1v6h-1zM339 150h3v6h-3zM348 137h1v27h-1zM347 152h3v9h-3zM356 153h1v33h-1zM355 154h3v13h-3zM364 175h1v8h-1zM363 176h3v2h-3zM368 165h1v23h-1zM367 172h3v8h-3zM372 155h1v20h-1zM371 172h3v2h-3zM376 146h1v30h-1zM375 172h3v2h-3zM388 184h1v6h-1zM387 187h3v3h-3zM392 172h1v20h-1zM391 172h3v14h-3zM396 158h1v20h-1zM395 161h3v12h-3zM408 170h1v48h-1zM407 172h3v43h-3zM412 170h1v4h-1zM411 170h3v2h-3zM416 160h1v19h-1zM415 161h3v13h-3zM428 161h1v23h-1zM427 167h3v11h-3zM436 190h1v8h-1zM435 190h3v4h-3zM440 178h1v17h-1zM439 183h3v5h-3zM448 184h1v20h-1zM447 186h3v18h-3zM460 280h1v10h-1zM459 286h3v1h-3zM464 268h1v28h-1zM463 273h3v13h-3zM472 240h1v34h-1zM471 244h3v30h-3zM480 230h1v20h-1zM479 241h3v9h-3zM504 286h1v27h-1zM503 287h3v13h-3zM508 269h1v21h-1zM507 272h3v16h-3zM512 268h1v14h-1zM511 270h3v6h-3zM528 291h1v37h-1zM527 296h3v20h-3zM532 290h1v6h-1zM531 290h3v6h-3zM536 287h1v24h-1zM535 290h3v2h-3zM568 352h1v34h-1zM567 354h3v14h-3zM572 334h1v26h-1zM571 350h3v5h-3zM580 346h1v5h-1zM579 350h3v1h-3zM584 337h1v29h-1zM583 339h3v9h-3zM596 326h1v46h-1zM595 333h3v25h-3zM608 341h1v25h-1zM607 350h3v10h-3zM612 329h1v25h-1zM611 340h3v11h-3zM620 325h1v21h-1zM619 329h3v15h-3zM632 350h1v18h-1zM631 361h3v1h-3zM636 354h1v18h-1zM635 359h3v3h-3zM640 339h1v31h-1zM639 346h3v14h-3zM648 342h1v24h-1zM647 344h3v16h-3zM676 454h1v6h-1zM675 457h3v3h-3zM680 424h1v33h-1zM679 424h3v33h-3zM684 394h1v34h-1zM683 402h3v23h-3zM688 396h1v15h-1zM687 397h3v5h-3zM696 376h1v42h-1zM695 376h3v29h-3zM700 372h1v6h-1zM699 374h3v2h-3zM708 360h1v27h-1zM707 377h3v7h-3zM712 345h1v33h-1zM711 348h3v30h-3zM716 328h1v27h-1zM715 333h3v17h-3zM720 296h1v40h-1zM719 314h3v20h-3zM724 302h1v13h-1zM723 305h3v9h-3zM740 335h1v24h-1zM739 342h3v6h-3zM752 344h1v20h-1zM751 346h3v2h-3zM784 395h1v21h-1zM783 398h3v10h-3zM788 374h1v42h-1zM787 382h3v17h-3zM800 384h1v21h-1zM799 388h3v11h-3zM812 400h1v42h-1zM811 414h3v18h-3zM816 392h1v40h-1zM815 394h3v20h-3zM824 378h1v26h-1zM823 388h3v4h-3zM828 380h1v24h-1zM827 382h3v7h-3zM836 368h1v38h-1zM835 370h3v32h-3zM844 373h1v7h-1zM843 374h3v3h-3zM848 346h1v39h-1zM847 348h3v32h-3zM856 344h1v26h-1zM855 348h3v2h-3zM860 320h1v28h-1zM859 324h3v24h-3zM868 322h1v6h-1zM867 324h3v3h-3zM876 293h1v37h-1zM875 295h3v31h-3zM880 278h1v24h-1zM879 280h3v16h-3zM892 299h1v7h-1zM891 302h3v2h-3zM896 283h1v21h-1zM895 288h3v12h-3zM900 274h1v20h-1zM899 287h3v1h-3zM904 269h1v23h-1zM903 279h3v9h-3zM908 260h1v36h-1zM907 264h3v16h-3zM916 273h1v11h-1zM915 273h3v9h-3zM920 269h1v23h-1zM919 269h3v9h-3z" fill="#ff0000"/>
<path d="M4 206h1v6h-1zM8 187h1v18h-1zM12 179h1v7h-1zM16 176h1v4h-1zM20 163h1v14h-1zM28 165h1v3h-1zM32 152h1v12h-1zM44 172h1v4h-1zM48 114h1v59h-1zM56 102h1v10h-1zM80 152h1v30h-1zM84 138h1v14h-1zM100 196h1v12h-1zM108 192h1v16h-1zM112 185h1v8h-1zM116 160h1v26h-1zM124 164h1v5h-1zM132 169h1v9h-1zM140 147h1v41h-1zM148 168h1v3h-1zM152 168h1v14h-1zM168 225h1v29h-1zM176 218h1v3h-1zM184 233h1v3h-1zM192 231h1v7h-1zM200 212h1v21h-1zM204 210h1v3h-1zM212 220h1v6h-1zM228 225h1v5h-1zM232 178h1v47h-1zM236 170h1v8h-1zM248 164h1v16h-1zM256 165h1v8h-1zM264 173h1v8h-1zM268 164h1v10h-1zM272 143h1v27h-1zM296 164h1v20h-1zM304 168h1v30h-1zM308 160h1v10h-1zM312 115h1v45h-1zM320 108h1v12h-1zM336 155h1v27h-1zM340 150h1v6h-1zM348 152h1v9h-1zM356 154h1v13h-1zM368 172h1v8h-1zM388 187h1v3h-1zM392 172h1v14h-1zM396 161h1v12h-1zM408 172h1v43h-1zM416 161h1v13h-1zM428 167h1v11h-1zM436 190h1v4h-1zM440 183h1v5h-1zM448 186h1v18h-1zM464 273h1v13h-1zM472 244h1v30h-1zM480 241h1v9h-1zM504 287h1v13h-1zM508 272h1v16h-1zM512 270h1v6h-1zM528 296h1v20h-1zM532 290h1v6h-1zM568 354h1v14h-1zM572 350h1v5h-1zM584 339h1v9h-1zM596 333h1v25h-1zM608 350h1v10h-1zM612 340h1v11h-1zM620 329h1v15h-1zM636 359h1v3h-1zM640 346h1v14h-1zM648 344h1v16h-1zM676 457h1v3h-1zM680 424h1v33h-1zM684 402h1v23h-1zM688 397h1v5h-1zM696 376h1v29h-1zM708 377h1v7h-1zM712 348h1v30h-1zM716 333h1v17h-1zM720 314h1v20h-1zM724 305h1v9h-1zM740 342h1v6h-1zM784 398h1v10h-1zM788 382h1v17h-1zM800 388h1v11h-1zM812 414h1v18h-1zM816 394h1v20h-1zM824 388h1v4h-1zM828 382h1v7h-1zM836 370h1v32h-1zM844 374h1v3h-1zM848 348h1v32h-1zM860 324h1v24h-1zM868 324h1v3h-1zM876 295h1v31h-1zM880 280h1v16h-1zM896 288h1v12h-1zM904 279h1v9h-1zM908 264h1v16h-1zM916 273h1v9h-1zM920 269h1v9h-1z" fill="#ff4500"/>
<path d="M3 528h3v6h-3zM7 528h3v2h-3zM11 527h3v1h-3zM15 524h3v4h-3zM19 520h3v8h-3zM23 518h3v10h-3zM27 517h3v11h-3zM31 514h3v14h-3zM35 512h3v16h-3zM39 513h3v15h-3zM43 514h3v14h-3zM47 509h3v19h-3zM51 505h3v23h-3zM55 500h3v28h-3zM59 497h3v31h-3zM63 495h3v33h-3zM67 496h3v32h-3zM71 502h3v26h-3zM75 506h3v22h-3zM79 509h3v19h-3zM83 510h3v18h-3zM87 512h3v16h-3zM91 513h3v15h-3zM95 521h3v7h-3zM99 526h3v2h-3zM103 528h3v4h-3zM107 528h3v6h-3zM111 528h3v7h-3zM115 528h3v6h-3zM119 528h3v5h-3zM123 528h3v4h-3zM127 528h3v5h-3zM131 528h3v4h-3zM135 528h3v6h-3zM139 528h3v2h-3zM143 528h3v2h-3zM147 528h3v2h-3zM151 528h3v2h-3zM155 528h3v5h-3zM159 528h3v10h-3zM163 528h3v17h-3zM167 528h3v19h-3zM171 528h3v20h-3zM175 528h3v20h-3zM179 528h3v22h-3zM183 528h3v23h-3zM187 528h3v23h-3zM191 528h3v23h-3zM195 528h3v22h-3zM199 528h3v21h-3zM203 528h3v18h-3zM207 528h3v18h-3zM211 528h3v16h-3zM215 528h3v16h-3zM219 528h3v14h-3zM223 528h3v14h-3zM227 528h3v14h-3zM231 528h3v9h-3zM235 528h3v2h-3zM239 527h3v1h-3zM243 524h3v4h-3zM247 521h3v7h-3zM251 519h3v9h-3zM255 517h3v11h-3zM259 517h3v11h-3zM263 517h3v11h-3zM267 516h3v12h-3zM271 513h3v15h-3zM275 512h3v16h-3zM279 512h3v16h-3zM283 513h3v15h-3zM287 516h3v12h-3zM291 518h3v10h-3zM295 518h3v10h-3zM299 521h3v7h-3zM303 521h3v7h-3zM307 520h3v8h-3zM311 514h3v14h-3zM315 511h3v17h-3zM319 508h3v20h-3zM323 506h3v22h-3zM327 511h3v17h-3zM331 515h3v13h-3zM335 516h3v12h-3zM339 517h3v11h-3zM343 518h3v10h-3zM347 518h3v10h-3zM351 520h3v8h-3zM355 521h3v7h-3zM359 523h3v5h-3zM363 525h3v3h-3zM367 526h3v2h-3zM371 527h3v1h-3zM375 528h3v1h-3zM379 528h3v2h-3zM383 528h3v4h-3zM387 528h3v5h-3zM391 528h3v5h-3zM395 528h3v2h-3zM399 528h3v2h-3zM403 528h3v7h-3zM407 528h3v6h-3zM411 528h3v5h-3zM415 528h3v4h-3zM419 528h3v3h-3zM423 528h3v3h-3zM427 528h3v2h-3zM431 528h3v3h-3zM435 528h3v5h-3zM439 528h3v6h-3zM443 528h3v8h-3zM447 528h3v7h-3zM451 528h3v15h-3zM455 528h3v23h-3zM459 528h3v29h-3zM463 528h3v32h-3zM467 528h3v34h-3zM471 528h3v32h-3zM475 528h3v31h-3zM479 528h3v29h-3zM483 528h3v28h-3zM487 528h3v27h-3zM491 528h3v28h-3zM495 528h3v29h-3zM499 528h3v33h-3zM503 528h3v33h-3zM507 528h3v31h-3zM511 528h3v29h-3zM515 528h3v29h-3zM519 528h3v29h-3zM523 528h3v32h-3zM527 528h3v31h-3zM531 528h3v30h-3zM535 528h3v28h-3zM539 528h3v28h-3zM543 528h3v27h-3zM547 528h3v28h-3zM551 528h3v29h-3zM555 528h3v31h-3zM559 528h3v34h-3zM563 528h3v37h-3zM567 528h3v38h-3zM571 528h3v37h-3zM575 528h3v37h-3zM579 528h3v36h-3zM583 528h3v34h-3zM587 528h3v32h-3zM591 528h3v32h-3zM595 528h3v29h-3zM599 528h3v28h-3zM603 528h3v28h-3zM607 528h3v27h-3zM611 528h3v24h-3zM615 528h3v22h-3zM619 528h3v19h-3zM623 528h3v19h-3zM627 528h3v19h-3zM631 528h3v19h-3zM635 528h3v19h-3zM639 528h3v18h-3zM643 528h3v17h-3zM647 528h3v15h-3zM651 528h3v13h-3zM655 528h3v14h-3zM659 528h3v18h-3zM663 528h3v22h-3zM667 528h3v28h-3zM671 528h3v34h-3zM675 528h3v38h-3zM679 528h3v37h-3zM683 528h3v34h-3zM687 528h3v31h-3zM691 528h3v29h-3zM695 528h3v24h-3zM699 528h3v20h-3zM703 528h3v17h-3zM707 528h3v14h-3zM711 528h3v9h-3zM715 528h3v3h-3zM719 524h3v4h-3zM723 518h3v10h-3zM727 515h3v13h-3zM731 514h3v14h-3zM735 515h3v13h-3zM739 516h3v12h-3zM743 517h3v11h-3zM747 518h3v10h-3zM751 518h3v10h-3zM755 521h3v7h-3zM759 523h3v5h-3zM763 527h3v1h-3zM767 528h3v3h-3zM771 528h3v6h-3zM775 528h3v9h-3zM779 528h3v12h-3zM783 528h3v13h-3zM787 528h3v12h-3zM791 528h3v13h-3zM795 528h3v14h-3zM799 528h3v13h-3zM803 528h3v14h-3zM807 528h3v17h-3zM811 528h3v18h-3zM815 528h3v16h-3zM819 528h3v14h-3zM823 528h3v12h-3zM827 528h3v10h-3zM831 528h3v10h-3zM835 528h3v7h-3zM839 528h3v5h-3zM843 528h3v2h-3zM847 526h3v2h-3zM851 523h3v5h-3zM855 520h3v8h-3zM859 516h3v12h-3zM863 513h3v15h-3zM867 511h3v17h-3zM871 509h3v19h-3zM875 505h3v23h-3zM879 501h3v27h-3zM883 499h3v29h-3zM887 499h3v29h-3zM891 499h3v29h-3zM895 498h3v30h-3zM899 498h3v30h-3zM903 497h3v31h-3zM907 495h3v33h-3zM911 496h3v32h-3zM915 496h3v32h-3zM919 496h3v32h-3zM923 497h3v31h-3z" fill="#c0c0c0"/>
<path d="M4 526h1v1h-1zM5 527h1v1h-1zM6 528h1v1h-1zM7 528h1v1h-1zM8 529h1v1h-1zM9 529h1v1h-1zM10 530h1v1h-1zM11 530h1v1h-1zM12 530h1v1h-1zM13 530h1v1h-1zM14 530h1v1h-1zM15 530h1v1h-1zM16 530h1v1h-1zM17 530h1v1h-1zM18 530h1v1h-1zM19 530h1v1h-1zM20 530h1v1h-1zM21 529h1v1h-1zM22 529h1v1h-1zM23 528h1v1h-1zM24 528h1v1h-1zM25 527h1v1h-1zM26 527h1v1h-1zM27 526h1v1h-1zM28 526h1v1h-1zM29 525h1v1h-1zM30 525h1v1h-1zM31 524h1v1h-1zM32 524h1v1h-1zM33 523h1v1h-1zM34 523h1v1h-1zM35 522h1v1h-1zM36 522h1v1h-1zM37 521h1v1h-1zM38 520h1v1h-1zM39 520h1v1h-1zM40 519h1v1h-1zM41 519h1v1h-1zM42 518h1v1h-1zM43 518h1v1h-1zM44 518h1v1h-1zM45 517h1v1h-1zM46 517h1v1h-1zM47 516h1v1h-1zM48 516h1v1h-1zM49 515h1v1h-1zM50 514h1v1h-1zM51 514h1v1h-1zM52 513h1v1h-1zM53 512h1v1h-1zM54 511h1v1h-1zM55 511h1v1h-1zM56 510h1v1h-1zM57 509h1v1h-1zM58 509h1v1h-1zM59 508h1v1h-1zM60 508h1v1h-1zM61 507h1v1h-1zM62 506h1v1h-1zM63 505h1v1h-1zM64 504h1v1h-1zM65 503h1v1h-1zM66 503h1v1h-1zM67 502h1v1h-1zM68 502h1v1h-1zM69 502h1v1h-1zM70 501h1v1h-1zM71 501h1v1h-1zM72 501h1v1h-1zM73 501h1v1h-1zM74 501h1v1h-1zM75 501h1v1h-1zM76 501h1v1h-1zM77 501h1v1h-1zM78 501h1v1h-1zM79 501h1v1h-1zM80 501h1v1h-1zM81 501h1v1h-1zM82 501h1v1h-1zM83 501h1v1h-1zM84 501h1v1h-1zM85 501h1v1h-1zM86 502h1v1h-1zM87 502h1v1h-1zM88 502h1v1h-1zM89 502h1v1h-1zM90 503h1v1h-1zM91 503h1v1h-1zM92 503h1v1h-1zM93 504h1v1h-1zM94 505h1v1h-1zM95 505h1v1h-1zM96 506h1v1h-1zM97 507h1v1h-1zM98 508h1v1h-1zM99 508h1v1h-1zM100 509h1v1h-1zM101 510h1v1h-1zM102 511h1v2h-1zM103 513h1v1h-1zM104 514h1v1h-1zM105 515h1v1h-1zM106 516h1v1h-1zM107 516h1v1h-1zM108 517h1v1h-1zM109 518h1v1h-1zM110 519h1v1h-1zM111 519h1v1h-1zM112 520h1v1h-1zM113 521h1v1h-1zM114 522h1v1h-1zM115 523h1v1h-1zM116 524h1v1h-1zM117 525h1v1h-1zM118 525h1v1h-1zM119 526h1v1h-1zM120 526h1v1h-1zM121 527h1v1h-1zM122 527h1v1h-1zM123 528h1v1h-1zM124 528h1v1h-1zM125 529h1v1h-1zM126 529h1v1h-1zM127 530h1v1h-1zM128 530h1v1h-1zM129 530h1v1h-1zM130 531h1v1h-1zM131 531h1v1h-1zM132 531h1v1h-1zM133 531h1v1h-1zM134 532h1v1h-1zM135 532h1v1h-1zM136 532h1v1h-1zM137 532h1v1h-1zM138 532h1v1h-1zM139 532h1v1h-1zM140 532h1v1h-1zM141 532h1v1h-1zM142 532h1v1h-1zM143 532h1v1h-1zM144 532h1v1h-1zM145 532h1v1h-1zM146 531h1v1h-1zM147 531h1v1h-1zM148 531h1v1h-1zM149 531h1v1h-1zM150 531h1v1h-1zM151 531h1v1h-1zM152 531h1v1h-1zM153 531h1v1h-1zM154 531h1v1h-1zM155 531h1v1h-1zM156 531h1v1h-1zM157 531h1v1h-1zM158 532h1v1h-1zM159 532h1v1h-1zM160 532h1v1h-1zM161 532h1v1h-1zM162 533h1v1h-1zM163 533h1v1h-1zM164 533h1v1h-1zM165 533h1v1h-1zM166 534h1v1h-1zM167 534h1v1h-1zM168 534h1v1h-1zM169 535h1v1h-1zM170 535h1v1h-1zM171 536h1v1h-1zM172 536h1v1h-1zM173 537h1v1h-1zM174 537h1v1h-1zM175 538h1v1h-1zM176 538h1v1h-1zM177 539h1v1h-1zM178 539h1v1h-1zM179 540h1v1h-1zM180 540h1v1h-1zM181 541h1v1h-1zM182 541h1v1h-1zM183 542h1v1h-1zM184 542h1v1h-1zM185 543h1v1h-1zM186 543h1v1h-1zM187 544h1v1h-1zM188 544h1v1h-1zM189 545h1v1h-1zM190 545h1v1h-1zM191 546h1v1h-1zM192 546h1v1h-1zM193 547h1v1h-1zM194 547h1v1h-1zM195 548h1v1h-1zM196 548h1v1h-1zM197 548h1v1h-1zM198 549h1v1h-1zM199 549h1v1h-1zM200 549h1v1h-1zM201 549h1v1h-1zM202 549h1v1h-1zM203 549h1v1h-1zM204 549h1v1h-1zM205 549h1v1h-1zM206 548h1v1h-1zM207 548h1v1h-1zM208 548h1v1h-1zM209 548h1v1h-1zM210 548h1v1h-1zM211 548h1v1h-1zM212 548h1v1h-1zM213 548h1v1h-1zM214 547h1v1h-1zM215 547h1v1h-1zM216 547h1v1h-1zM217 547h1v1h-1zM218 546h1v1h-1zM219 546h1v1h-1zM220 546h1v1h-1zM221 546h1v1h-1zM222 545h1v1h-1zM223 545h1v1h-1zM224 545h1v1h-1zM225 545h1v1h-1zM226 544h1v1h-1zM227 544h1v1h-1zM228 544h1v1h-1zM229 544h1v1h-1zM230 543h1v1h-1zM231 543h1v1h-1zM232 543h1v1h-1zM233 542h1v1h-1zM234 542h1v1h-1zM235 541h1v1h-1zM236 541h1v1h-1zM237 540h1v1h-1zM238 540h1v1h-1zM239 539h1v1h-1zM240 539h1v1h-1zM241 538h1v1h-1zM242 537h1v1h-1zM243 537h1v1h-1zM244 536h1v1h-1zM245 535h1v1h-1zM246 535h1v1h-1zM247 534h1v1h-1zM248 534h1v1h-1zM249 533h1v1h-1zM250 533h1v1h-1zM251 532h1v1h-1zM252 532h1v1h-1zM253 531h1v1h-1zM254 531h1v1h-1zM255 530h1v1h-1zM256 530h1v1h-1zM257 529h1v1h-1zM258 528h1v1h-1zM259 528h1v1h-1zM260 527h1v1h-1zM261 526h1v1h-1zM262 525h1v1h-1zM263 525h1v1h-1zM264 524h1v1h-1zM265 523h1v1h-1zM266 523h1v1h-1zM267 522h1v1h-1zM268 522h1v1h-1zM269 521h1v1h-1zM270 520h1v1h-1zM271 520h1v1h-1zM272 519h1v1h-1zM273 518h1v1h-1zM274 518h1v1h-1zM275 517h1v1h-1zM276 517h1v1h-1zM277 517h1v1h-1zM278 516h1v1h-1zM279 516h1v1h-1zM280 516h1v1h-1zM281 516h1v1h-1zM282 515h1v1h-1zM283 515h1v1h-1zM284 515h1v1h-1zM285 515h1v1h-1zM286 515h1v1h-1zM287 515h1v1h-1zM288 515h1v1h-1zM289 515h1v1h-1zM290 515h1v1h-1zM291 515h1v1h-1zM292 515h1v1h-1zM293 515h1v1h-1zM294 515h1v1h-1zM295 515h1v1h-1zM296 515h1v1h-1zM297 515h1v1h-1zM298 515h1v1h-1zM299 515h1v1h-1zM300 515h1v1h-1zM301 515h1v1h-1zM302 516h1v1h-1zM303 516h1v1h-1zM304 516h1v1h-1zM305 516h1v1h-1zM306 517h1v1h-1zM307 517h1v1h-1zM308 517h1v1h-1zM309 517h1v1h-1zM310 517h1v1h-1zM311 517h1v1h-1zM312 517h1v1h-1zM313 517h1v1h-1zM314 517h1v1h-1zM315 517h1v1h-1zM316 517h1v1h-1zM317 517h1v1h-1zM318 516h1v1h-1zM319 516h1v1h-1zM320 516h1v1h-1zM321 516h1v1h-1zM322 515h1v1h-1zM323 515h1v1h-1zM324 515h1v1h-1zM325 515h1v1h-1zM326 514h1v1h-1zM327 514h1v1h-1zM328 514h1v1h-1zM329 514h1v1h-1zM330 514h1v1h-1zM331 514h1v1h-1zM332 514h1v1h-1zM333 514h1v1h-1zM334 514h1v1h-1zM335 514h1v1h-1zM336 514h1v1h-1zM337 514h1v1h-1zM338 513h1v1h-1zM339 513h1v1h-1zM340 513h1v1h-1zM341 513h1v1h-1zM342 513h1v1h-1zM343 513h1v1h-1zM344 513h1v1h-1zM345 513h1v1h-1zM346 513h1v1h-1zM347 513h1v1h-1zM348 513h1v1h-1zM349 513h1v1h-1zM350 514h1v1h-1zM351 514h1v1h-1zM352 514h1v1h-1zM353 515h1v1h-1zM354 515h1v1h-1zM355 516h1v1h-1zM356 516h1v1h-1zM357 517h1v1h-1zM358 517h1v1h-1zM359 518h1v1h-1zM360 518h1v1h-1zM361 518h1v1h-1zM362 519h1v1h-1zM363 519h1v1h-1zM364 519h1v1h-1zM365 519h1v1h-1zM366 520h1v1h-1zM367 520h1v1h-1zM368 520h1v1h-1zM369 521h1v1h-1zM370 521h1v1h-1zM371 522h1v1h-1zM372 522h1v1h-1zM373 522h1v1h-1zM374 522h1v1h-1zM375 522h1v1h-1zM376 522h1v1h-1zM377 523h1v1h-1zM378 523h1v1h-1zM379 524h1v1h-1zM380 524h1v1h-1zM381 524h1v1h-1zM382 525h1v1h-1zM383 525h1v1h-1zM384 525h1v1h-1zM385 525h1v1h-1zM386 526h1v1h-1zM387 526h1v1h-1zM388 526h1v1h-1zM389 527h1v1h-1zM390 527h1v1h-1zM391 528h1v1h-1zM392 528h1v1h-1zM393 528h1v1h-1zM394 528h1v1h-1zM395 528h1v1h-1zM396 528h1v1h-1zM397 529h1v1h-1zM398 529h1v1h-1zM399 530h1v1h-1zM400 530h1v1h-1zM401 530h1v1h-1zM402 530h1v1h-1zM403 530h1v1h-1zM404 530h1v1h-1zM405 530h1v1h-1zM406 530h1v1h-1zM407 530h1v1h-1zM408 530h1v1h-1zM409 530h1v1h-1zM410 531h1v1h-1zM411 531h1v1h-1zM412 531h1v1h-1zM413 531h1v1h-1zM414 532h1v1h-1zM415 532h1v1h-1zM416 532h1v1h-1zM417 532h1v1h-1zM418 532h1v1h-1zM419 532h1v1h-1zM420 532h1v1h-1zM421 532h1v1h-1zM422 531h1v1h-1zM423 531h1v1h-1zM424 531h1v1h-1zM425 531h1v1h-1zM426 531h1v1h-1zM427 531h1v1h-1zM428 531h1v1h-1zM429 531h1v1h-1zM430 531h1v1h-1zM431 531h1v1h-1zM432 531h1v1h-1zM433 531h1v1h-1zM434 531h1v1h-1zM435 531h1v1h-1zM436 531h1v1h-1zM437 531h1v1h-1zM438 531h1v1h-1zM439 531h1v1h-1zM440 531h1v1h-1zM441 531h1v1h-1zM442 531h1v1h-1zM443 531h1v1h-1zM444 531h1v1h-1zM445 531h1v1h-1zM446 532h1v1h-1zM447 532h1v1h-1zM448 532h1v1h-1zM449 532h1v1h-1zM450 532h1v1h-1zM451 532h1v1h-1zM452 532h1v1h-1zM453 533h1v1h-1zM454 533h1v1h-1zM455 534h1v1h-1zM456 534h1v1h-1zM457 535h1v1h-1zM458 536h1v1h-1zM459 537h1v1h-1zM460 538h1v1h-1zM461 539h1v1h-1zM462 540h1v1h-1zM463 541h1v1h-1zM464 542h1v1h-1zM465 543h1v1h-1zM466 544h1v1h-1zM467 544h1v1h-1zM468 545h1v1h-1zM469 546h1v1h-1zM470 547h1v1h-1zM471 547h1v1h-1zM472 548h1v1h-1zM473 549h1v1h-1zM474 549h1v1h-1zM475 550h1v1h-1zM476 550h1v1h-1zM477 551h1v1h-1zM478 551h1v1h-1zM479 552h1v1h-1zM480 552h1v1h-1zM481 553h1v1h-1zM482 553h1v1h-1zM483 554h1v1h-1zM484 554h1v1h-1zM485 555h1v1h-1zM486 555h1v1h-1zM487 556h1v1h-1zM488 556h1v1h-1zM489 556h1v1h-1zM490 557h1v1h-1zM491 557h1v1h-1zM492 557h1v1h-1zM493 557h1v1h-1zM494 557h1v1h-1zM495 557h1v1h-1zM496 557h1v1h-1zM497 557h1v1h-1zM498 557h1v1h-1zM499 557h1v1h-1zM500 557h1v1h-1zM501 557h1v1h-1zM502 557h1v1h-1zM503 557h1v1h-1zM504 557h1v1h-1zM505 557h1v1h-1zM506 557h1v1h-1zM507 557h1v1h-1zM508 557h1v1h-1zM509 557h1v1h-1zM510 557h1v1h-1zM511 557h1v1h-1zM512 557h1v1h-1zM513 557h1v1h-1zM514 557h1v1h-1zM515 557h1v1h-1zM516 557h1v1h-1zM517 557h1v1h-1zM518 557h1v1h-1zM519 557h1v1h-1zM520 557h1v1h-1zM521 557h1v1h-1zM522 558h1v1h-1zM523 558h1v1h-1zM524 558h1v1h-1zM525 558h1v1h-1zM526 558h1v1h-1zM527 558h1v1h-1zM528 558h1v1h-1zM529 558h1v1h-1zM530 558h1v1h-1zM531 558h1v1h-1zM532 558h1v1h-1zM533 558h1v1h-1zM534 557h1v1h-1zM535 557h1v1h-1zM536 557h1v1h-1zM537 557h1v1h-1zM538 557h1v1h-1zM539 557h1v1h-1zM540 557h1v1h-1zM541 557h1v1h-1zM542 556h1v1h-1zM543 556h1v1h-1zM544 556h1v1h-1zM545 556h1v1h-1zM546 556h1v1h-1zM547 556h1v1h-1zM548 556h1v1h-1zM549 556h1v1h-1zM550 556h1v1h-1zM551 556h1v1h-1zM552 556h1v1h-1zM553 556h1v1h-1zM554 556h1v1h-1zM555 556h1v1h-1zM556 556h1v1h-1zM557 556h1v1h-1zM558 556h1v1h-1zM559 556h1v1h-1zM560 556h1v1h-1zM561 556h1v1h-1zM562 557h1v1h-1zM563 557h1v1h-1zM564 557h1v1h-1zM565 557h1v1h-1zM566 558h1v1h-1zM567 558h1v1h-1zM568 558h1v1h-1zM569 558h1v1h-1zM570 559h1v1h-1zM571 559h1v1h-1zM572 559h1v1h-1zM573 559h1v1h-1zM574 560h1v1h-1zM575 560h1v1h-1zM576 560h1v1h-1zM577 560h1v1h-1zM578 561h1v1h-1zM579 561h1v1h-1zM580 561h1v1h-1zM581 561h1v1h-1zM582 562h1v1h-1zM583 562h1v1h-1zM584 562h1v1h-1zM585 562h1v1h-1zM586 562h1v1h-1zM587 562h1v1h-1zM588 562h1v1h-1zM589 562h1v1h-1zM590 562h1v1h-1zM591 562h1v1h-1zM592 562h1v1h-1zM593 562h1v1h-1zM594 561h1v1h-1zM595 561h1v1h-1zM596 561h1v1h-1zM597 561h1v1h-1zM598 560h1v1h-1zM599 560h1v1h-1zM600 560h1v1h-1zM601 560h1v1h-1zM602 559h1v1h-1zM603 559h1v1h-1zM604 559h1v1h-1zM605 559h1v1h-1zM606 558h1v1h-1zM607 558h1v1h-1zM608 558h1v1h-1zM609 558h1v1h-1zM610 557h1v1h-1zM611 557h1v1h-1zM612 557h1v1h-1zM613 556h1v1h-1zM614 556h1v1h-1zM615 555h1v1h-1zM616 555h1v1h-1zM617 555h1v1h-1zM618 554h1v1h-1zM619 554h1v1h-1zM620 554h1v1h-1zM621 553h1v1h-1zM622 553h1v1h-1zM623 552h1v1h-1zM624 552h1v1h-1zM625 552h1v1h-1zM626 551h1v1h-1zM627 551h1v1h-1zM628 551h1v1h-1zM629 551h1v1h-1zM630 550h1v1h-1zM631 550h1v1h-1zM632 550h1v1h-1zM633 549h1v1h-1zM634 549h1v1h-1zM635 548h1v1h-1zM636 548h1v1h-1zM637 548h1v1h-1zM638 547h1v1h-1zM639 547h1v1h-1zM640 547h1v1h-1zM641 547h1v1h-1zM642 546h1v1h-1zM643 546h1v1h-1zM644 546h1v1h-1zM645 546h1v1h-1zM646 545h1v1h-1zM647 545h1v1h-1zM648 545h1v1h-1zM649 545h1v1h-1zM650 544h1v1h-1zM651 544h1v1h-1zM652 544h1v1h-1zM653 544h1v1h-1zM654 544h1v1h-1zM655 544h1v1h-1zM656 544h1v1h-1zM657 544h1v1h-1zM658 544h1v1h-1zM659 544h1v1h-1zM660 544h1v1h-1zM661 544h1v1h-1zM662 544h1v1h-1zM663 544h1v1h-1zM664 544h1v1h-1zM665 544h1v1h-1zM666 545h1v1h-1zM667 545h1v1h-1zM668 545h1v1h-1zM669 546h1v1h-1zM670 546h1v1h-1zM671 547h1v1h-1zM672 547h1v1h-1zM673 548h1v1h-1zM674 548h1v1h-1zM675 549h1v1h-1zM676 549h1v1h-1zM677 550h1v1h-1zM678 551h1v1h-1zM679 551h1v1h-1zM680 552h1v1h-1zM681 553h1v1h-1zM682 553h1v1h-1zM683 554h1v1h-1zM684 554h1v1h-1zM685 555h1v1h-1zM686 555h1v1h-1zM687 556h1v1h-1zM688 556h1v1h-1zM689 557h1v1h-1zM690 557h1v1h-1zM691 558h1v1h-1zM692 558h1v1h-1zM693 558h1v1h-1zM694 558h1v1h-1zM695 558h1v1h-1zM696 558h1v1h-1zM697 558h1v1h-1zM698 558h1v1h-1zM699 558h1v1h-1zM700 558h1v1h-1zM701 557h1v1h-1zM702 557h1v1h-1zM703 556h1v1h-1zM704 556h1v1h-1zM705 555h1v1h-1zM706 555h1v1h-1zM707 554h1v1h-1zM708 554h1v1h-1zM709 553h1v1h-1zM710 552h1v1h-1zM711 552h1v1h-1zM712 551h1v1h-1zM713 550h1v1h-1zM714 549h1v1h-1zM715 548h1v1h-1zM716 547h1v1h-1zM717 546h1v1h-1zM718 545h1v1h-1zM719 544h1v1h-1zM720 543h1v1h-1zM721 542h1v1h-1zM722 540h1v2h-1zM723 539h1v1h-1zM724 538h1v1h-1zM725 537h1v1h-1zM726 536h1v1h-1zM727 535h1v1h-1zM728 534h1v1h-1zM729 533h1v1h-1zM730 532h1v1h-1zM731 531h1v1h-1zM732 530h1v1h-1zM733 529h1v1h-1zM734 529h1v1h-1zM735 528h1v1h-1zM736 528h1v1h-1zM737 527h1v1h-1zM738 526h1v1h-1zM739 525h1v1h-1zM740 524h1v1h-1zM741 523h1v1h-1zM742 522h1v1h-1zM743 522h1v1h-1zM744 521h1v1h-1zM745 520h1v1h-1zM746 520h1v1h-1zM747 519h1v1h-1zM748 519h1v1h-1zM749 518h1v1h-1zM750 518h1v1h-1zM751 517h1v1h-1zM752 517h1v1h-1zM753 517h1v1h-1zM754 517h1v1h-1zM755 517h1v1h-1zM756 517h1v1h-1zM757 517h1v1h-1zM758 517h1v1h-1zM759 517h1v1h-1zM760 517h1v1h-1zM761 517h1v1h-1zM762 518h1v1h-1zM763 518h1v1h-1zM764 518h1v1h-1zM765 519h1v1h-1zM766 519h1v1h-1zM767 520h1v1h-1zM768 520h1v1h-1zM769 521h1v1h-1zM770 521h1v1h-1zM771 522h1v1h-1zM772 522h1v1h-1zM773 523h1v1h-1zM774 523h1v1h-1zM775 524h1v1h-1zM776 524h1v1h-1zM777 525h1v1h-1zM778 526h1v1h-1zM779 526h1v1h-1zM780 527h1v1h-1zM781 528h1v1h-1zM782 529h1v1h-1zM783 529h1v1h-1zM784 530h1v1h-1zM785 531h1v1h-1zM786 531h1v1h-1zM787 532h1v1h-1zM788 532h1v1h-1zM789 533h1v1h-1zM790 533h1v1h-1zM791 534h1v1h-1zM792 534h1v1h-1zM793 535h1v1h-1zM794 535h1v1h-1zM795 536h1v1h-1zM796 536h1v1h-1zM797 537h1v1h-1zM798 537h1v1h-1zM799 538h1v1h-1zM800 538h1v1h-1zM801 538h1v1h-1zM802 539h1v1h-1zM803 539h1v1h-1zM804 539h1v1h-1zM805 539h1v1h-1zM806 540h1v1h-1zM807 540h1v1h-1zM808 540h1v1h-1zM809 540h1v1h-1zM810 541h1v1h-1zM811 541h1v1h-1zM812 541h1v1h-1zM813 541h1v1h-1zM814 541h1v1h-1zM815 541h1v1h-1zM816 541h1v1h-1zM817 541h1v1h-1zM818 542h1v1h-1zM819 542h1v1h-1zM820 542h1v1h-1zM821 542h1v1h-1zM822 542h1v1h-1zM823 542h1v1h-1zM824 542h1v1h-1zM825 542h1v1h-1zM826 542h1v1h-1zM827 542h1v1h-1zM828 542h1v1h-1zM829 542h1v1h-1zM830 541h1v1h-1zM831 541h1v1h-1zM832 541h1v1h-1zM833 541h1v1h-1zM834 540h1v1h-1zM835 540h1v1h-1zM836 540h1v1h-1zM837 540h1v1h-1zM838 539h1v1h-1zM839 539h1v1h-1zM840 539h1v1h-1zM841 539h1v1h-1zM842 538h1v1h-1zM843 538h1v1h-1zM844 538h1v1h-1zM845 537h1v1h-1zM846 537h1v1h-1zM847 536h1v1h-1zM848 536h1v1h-1zM849 535h1v1h-1zM850 535h1v1h-1zM851 534h1v1h-1zM852 534h1v1h-1zM853 533h1v1h-1zM854 532h1v1h-1zM855 532h1v1h-1zM856 531h1v1h-1zM857 530h1v1h-1zM858 529h1v1h-1zM859 529h1v1h-1zM860 528h1v1h-1zM861 527h1v1h-1zM862 527h1v1h-1zM863 526h1v1h-1zM864 526h1v1h-1zM865 525h1v1h-1zM866 525h1v1h-1zM867 524h1v1h-1zM868 524h1v1h-1zM869 523h1v1h-1zM870 522h1v1h-1zM871 521h1v1h-1zM872 520h1v1h-1zM873 519h1v1h-1zM874 518h1v1h-1zM875 517h1v1h-1zM876 516h1v1h-1zM877 515h1v1h-1zM878 514h1v1h-1zM879 514h1v1h-1zM880 513h1v1h-1zM881 512h1v1h-1zM882 511h1v1h-1zM883 511h1v1h-1zM884 510h1v1h-1zM885 509h1v1h-1zM886 508h1v1h-1zM887 508h1v1h-1zM888 507h1v1h-1zM889 506h1v1h-1zM890 505h1v1h-1zM891 505h1v1h-1zM892 504h1v1h-1zM893 503h1v1h-1zM894 503h1v1h-1zM895 502h1v1h-1zM896 502h1v1h-1zM897 502h1v1h-1zM898 501h1v1h-1zM899 501h1v1h-1zM900 501h1v1h-1zM901 501h1v1h-1zM902 500h1v1h-1zM903 500h1v1h-1zM904 500h1v1h-1zM905 499h1v1h-1zM906 499h1v1h-1zM907 498h1v1h-1zM908 498h1v1h-1zM909 498h1v1h-1zM910 498h1v1h-1zM911 498h1v1h-1zM912 498h1v1h-1zM913 498h1v1h-1zM914 497h1v1h-1zM915 497h1v1h-1zM916 497h1v1h-1zM917 497h1v1h-1zM918 497h1v1h-1zM919 497h1v1h-1zM920 497h1v1h-1zM921 497h1v1h-1zM922 497h1v1h-1zM923 497h1v1h-1z" fill="#ff0000"/>
<path d="M5 598.5H1166" stroke="#c0c0c0" stroke-width="1" stroke-dasharray="3 3" fill="none"/>
<path d="M5 633.5H1166" stroke="#c0c0c0" stroke-width="1" stroke-dasharray="3 3" fill="none"/>
<path d="M4 615h1v1h-1zM5 614h1v1h-1zM6 612h1v2h-1zM7 611h1v1h-1zM8 610h1v1h-1zM9 610h1v1h-1zM10 609h1v1h-1zM11 609h1v1h-1zM12 609h1v1h-1zM13 609h1v1h-1zM14 608h1v1h-1zM15 608h1v1h-1zM16 608h1v1h-1zM17 607h1v1h-1zM18 607h1v1h-1zM19 606h1v1h-1zM20 606h1v1h-1zM21 606h1v1h-1zM22 607h1v1h-1zM23 607h1v1h-1zM24 607h1v1h-1zM25 607h1v1h-1zM26 607h1v1h-1zM27 607h1v1h-1zM28 607h1v1h-1zM29 606h1v1h-1zM30 605h1v1h-1zM31 605h1v1h-1zM32 604h1v1h-1zM33 605h1v1h-1zM34 605h1v1h-1zM35 606h1v1h-1zM36 606h1v1h-1zM37 607h1v1h-1zM38 608h1v2h-1zM39 610h1v1h-1zM40 611h1v1h-1zM41 611h1v1h-1zM42 611h1v1h-1zM43 611h1v1h-1zM44 610h1v2h-1zM45 607h1v3h-1zM46 605h1v2h-1zM47 602h1v3h-1zM48 600h1v2h-1zM49 600h1v1h-1zM50 600h1v1h-1zM51 600h1v1h-1zM52 600h1v1h-1zM53 599h1v1h-1zM54 598h1v1h-1zM55 598h1v1h-1zM56 597h1v1h-1zM57 597h1v1h-1zM58 597h1v1h-1zM59 597h1v1h-1zM60 597h1v1h-1zM61 597h1v1h-1zM62 596h1v1h-1zM63 596h1v1h-1zM64 596h1v1h-1zM65 595h1v1h-1zM66 595h1v1h-1zM67 594h1v1h-1zM68 594h1v3h-1zM69 597h1v6h-1zM70 603h1v6h-1zM71 609h1v6h-1zM72 615h1v4h-1zM73 619h1v1h-1zM74 620h1v1h-1zM75 620h1v1h-1zM76 621h1v1h-1zM77 619h1v2h-1zM78 617h1v2h-1zM79 615h1v2h-1zM80 614h1v1h-1zM81 613h1v1h-1zM82 613h1v1h-1zM83 612h1v1h-1zM84 612h1v1h-1zM85 613h1v1h-1zM86 613h1v1h-1zM87 614h1v1h-1zM88 614h1v1h-1zM89 614h1v1h-1zM90 614h1v1h-1zM91 614h1v1h-1zM92 614h1v2h-1zM93 616h1v2h-1zM94 618h1v2h-1zM95 620h1v2h-1zM96 622h1v2h-1zM97 622h1v1h-1zM98 622h1v1h-1zM99 621h1v1h-1zM100 621h1v1h-1zM101 622h1v1h-1zM102 622h1v1h-1zM103 623h1v1h-1zM104 623h1v1h-1zM105 622h1v1h-1zM106 621h1v1h-1zM107 621h1v1h-1zM108 620h1v1h-1zM109 619h1v1h-1zM110 619h1v1h-1zM111 618h1v1h-1zM112 618h1v1h-1zM113 617h1v1h-1zM114 616h1v1h-1zM115 615h1v1h-1zM116 614h1v1h-1zM117 615h1v1h-1zM118 615h1v1h-1zM119 616h1v1h-1zM120 616h1v1h-1zM121 615h1v1h-1zM122 615h1v1h-1zM123 614h1v1h-1zM124 614h1v1h-1zM125 615h1v1h-1zM126 616h1v1h-1zM127 616h1v1h-1zM128 617h1v1h-1zM129 617h1v1h-1zM130 616h1v1h-1zM131 616h1v1h-1zM132 616h1v1h-1zM133 617h1v1h-1zM134 618h1v1h-1zM135 618h1v1h-1zM136 619h1v1h-1zM137 617h1v2h-1zM138 615h1v2h-1zM139 613h1v2h-1zM140 612h1v1h-1zM141 613h1v1h-1zM142 614h1v1h-1zM143 615h1v1h-1zM144 616h1v1h-1zM145 616h1v1h-1zM146 616h1v1h-1zM147 616h1v1h-1zM148 616h1v1h-1zM149 616h1v1h-1zM150 616h1v1h-1zM151 616h1v1h-1zM152 616h1v1h-1zM153 617h1v1h-1zM154 618h1v1h-1zM155 619h1v1h-1zM156 620h1v1h-1zM157 621h1v1h-1zM158 622h1v1h-1zM159 623h1v1h-1zM160 624h1v1h-1zM161 625h1v1h-1zM162 626h1v2h-1zM163 628h1v1h-1zM164 629h1v1h-1zM165 627h1v2h-1zM166 626h1v1h-1zM167 624h1v2h-1zM168 623h1v1h-1zM169 623h1v1h-1zM170 623h1v1h-1zM171 623h1v1h-1zM172 623h1v1h-1zM173 622h1v1h-1zM174 622h1v1h-1zM175 621h1v1h-1zM176 621h1v1h-1zM177 622h1v1h-1zM178 623h1v1h-1zM179 623h1v1h-1zM180 624h1v1h-1zM181 624h1v1h-1zM182 623h1v1h-1zM183 623h1v1h-1zM184 623h1v1h-1zM185 623h1v1h-1zM186 624h1v1h-1zM187 624h1v1h-1zM188 624h1v1h-1zM189 623h1v1h-1zM190 623h1v1h-1zM191 622h1v1h-1zM192 622h1v1h-1zM193 623h1v1h-1zM194 623h1v1h-1zM195 624h1v1h-1zM196 624h1v1h-1zM197 622h1v2h-1zM198 620h1v2h-1zM199 618h1v2h-1zM200 617h1v1h-1zM201 617h1v1h-1zM202 617h1v1h-1zM203 617h1v1h-1zM204 617h1v1h-1zM205 618h1v1h-1zM206 619h1v1h-1zM207 619h1v1h-1zM208 620h1v1h-1zM209 620h1v1h-1zM210 619h1v1h-1zM211 619h1v1h-1zM212 619h1v1h-1zM213 619h1v1h-1zM214 620h1v1h-1zM215 620h1v1h-1zM216 620h1v1h-1zM217 620h1v1h-1zM218 620h1v1h-1zM219 620h1v1h-1zM220 620h1v1h-1zM221 620h1v1h-1zM222 621h1v1h-1zM223 621h1v1h-1zM224 621h1v1h-1zM225 621h1v1h-1zM226 620h1v1h-1zM227 620h1v1h-1zM228 619h1v2h-1zM229 616h1v3h-1zM230 613h1v3h-1zM231 610h1v3h-1zM232 608h1v2h-1zM233 607h1v1h-1zM234 607h1v1h-1zM235 606h1v1h-1zM236 606h1v1h-1zM237 607h1v1h-1zM238 607h1v1h-1zM239 608h1v1h-1zM240 608h1v1h-1zM241 608h1v1h-1zM242 608h1v1h-1zM243 608h1v1h-1zM244 608h1v1h-1zM245 607h1v1h-1zM246 607h1v1h-1zM247 606h1v1h-1zM248 606h1v1h-1zM249 607h1v1h-1zM250 607h1v1h-1zM251 608h1v1h-1zM252 608h1v1h-1zM253 608h1v1h-1zM254 607h1v1h-1zM255 607h1v1h-1zM256 607h1v1h-1zM257 608h1v1h-1zM258 609h1v1h-1zM259 610h1v1h-1zM260 611h1v1h-1zM261 611h1v1h-1zM262 610h1v1h-1zM263 610h1v1h-1zM264 610h1v1h-1zM265 609h1v1h-1zM266 609h1v1h-1zM267 608h1v1h-1zM268 608h1v1h-1zM269 607h1v1h-1zM270 605h1v2h-1zM271 604h1v1h-1zM272 603h1v1h-1zM273 604h1v1h-1zM274 605h1v1h-1zM275 606h1v1h-1zM276 607h1v1h-1zM277 607h1v1h-1zM278 608h1v1h-1zM279 608h1v1h-1zM280 608h1v1h-1zM281 609h1v1h-1zM282 609h1v1h-1zM283 610h1v1h-1zM284 610h1v1h-1zM285 611h1v1h-1zM286 612h1v2h-1zM287 614h1v1h-1zM288 615h1v1h-1zM289 616h1v1h-1zM290 617h1v1h-1zM291 617h1v1h-1zM292 618h1v1h-1zM293 616h1v2h-1zM294 614h1v2h-1zM295 612h1v2h-1zM296 611h1v1h-1zM297 612h1v2h-1zM298 614h1v2h-1zM299 616h1v2h-1zM300 618h1v2h-1zM301 617h1v2h-1zM302 616h1v1h-1zM303 614h1v2h-1zM304 613h1v1h-1zM305 612h1v1h-1zM306 612h1v1h-1zM307 611h1v1h-1zM308 611h1v1h-1zM309 609h1v2h-1zM310 607h1v2h-1zM311 605h1v2h-1zM312 603h1v2h-1zM313 604h1v1h-1zM314 604h1v1h-1zM315 605h1v1h-1zM316 605h1v1h-1zM317 604h1v1h-1zM318 604h1v1h-1zM319 603h1v1h-1zM320 603h1v1h-1zM321 604h1v1h-1zM322 605h1v1h-1zM323 606h1v1h-1zM324 607h1v2h-1zM325 609h1v2h-1zM326 611h1v3h-1zM327 614h1v2h-1zM328 616h1v2h-1zM329 617h1v1h-1zM330 618h1v1h-1zM331 618h1v1h-1zM332 618h1v1h-1zM333 617h1v1h-1zM334 616h1v1h-1zM335 615h1v1h-1zM336 614h1v1h-1zM337 614h1v1h-1zM338 613h1v1h-1zM339 613h1v1h-1zM340 613h1v1h-1zM341 614h1v1h-1zM342 614h1v1h-1zM343 615h1v1h-1zM344 615h1v1h-1zM345 614h1v1h-1zM346 614h1v1h-1zM347 613h1v1h-1zM348 613h1v1h-1zM349 614h1v1h-1zM350 615h1v1h-1zM351 615h1v1h-1zM352 616h1v1h-1zM353 615h1v1h-1zM354 615h1v1h-1zM355 614h1v1h-1zM356 614h1v1h-1zM357 615h1v1h-1zM358 616h1v1h-1zM359 617h1v1h-1zM360 618h1v1h-1zM361 618h1v1h-1zM362 618h1v1h-1zM363 618h1v1h-1zM364 618h1v1h-1zM365 618h1v1h-1zM366 617h1v1h-1zM367 617h1v1h-1zM368 617h1v1h-1zM369 617h1v1h-1zM370 617h1v1h-1zM371 617h1v1h-1zM372 617h1v1h-1zM373 617h1v1h-1zM374 617h1v1h-1zM375 617h1v1h-1zM376 617h1v1h-1zM377 617h1v1h-1zM378 617h1v1h-1zM379 617h1v1h-1zM380 617h1v1h-1zM381 618h1v1h-1zM382 619h1v1h-1zM383 620h1v1h-1zM384 621h1v1h-1zM385 621h1v1h-1zM386 621h1v1h-1zM387 621h1v1h-1zM388 621h1v1h-1zM389 620h1v1h-1zM390 618h1v2h-1zM391 617h1v1h-1zM392 616h1v1h-1zM393 615h1v1h-1zM394 614h1v1h-1zM395 614h1v1h-1zM396 613h1v1h-1zM397 613h1v1h-1zM398 614h1v1h-1zM399 614h1v1h-1zM400 614h1v2h-1zM401 616h1v3h-1zM402 619h1v3h-1zM403 622h1v3h-1zM404 625h1v2h-1zM405 622h1v3h-1zM406 620h1v2h-1zM407 617h1v3h-1zM408 615h1v2h-1zM409 615h1v1h-1zM410 614h1v1h-1zM411 614h1v1h-1zM412 614h1v1h-1zM413 614h1v1h-1zM414 613h1v1h-1zM415 613h1v1h-1zM416 613h1v1h-1zM417 614h1v1h-1zM418 615h1v1h-1zM419 615h1v1h-1zM420 616h1v1h-1zM421 616h1v1h-1zM422 617h1v1h-1zM423 617h1v1h-1zM424 617h1v1h-1zM425 616h1v1h-1zM426 615h1v1h-1zM427 615h1v1h-1zM428 614h1v1h-1zM429 615h1v2h-1zM430 617h1v1h-1zM431 618h1v2h-1zM432 620h1v1h-1zM433 620h1v1h-1zM434 619h1v1h-1zM435 619h1v1h-1zM436 619h1v1h-1zM437 619h1v1h-1zM438 618h1v1h-1zM439 618h1v1h-1zM440 618h1v1h-1zM441 619h1v1h-1zM442 620h1v1h-1zM443 621h1v1h-1zM444 622h1v1h-1zM445 621h1v1h-1zM446 620h1v1h-1zM447 619h1v1h-1zM448 618h1v2h-1zM449 620h1v3h-1zM450 623h1v3h-1zM451 626h1v3h-1zM452 629h1v2h-1zM453 631h1v1h-1zM454 632h1v1h-1zM455 632h1v1h-1zM456 633h1v1h-1zM457 633h1v1h-1zM458 633h1v1h-1zM459 633h1v1h-1zM460 633h1v1h-1zM461 632h1v1h-1zM462 631h1v1h-1zM463 630h1v1h-1zM464 629h1v1h-1zM465 629h1v1h-1zM466 629h1v1h-1zM467 629h1v1h-1zM468 629h1v1h-1zM469 627h1v2h-1zM470 625h1v2h-1zM471 623h1v2h-1zM472 622h1v1h-1zM473 622h1v1h-1zM474 623h1v1h-1zM475 623h1v1h-1zM476 623h1v1h-1zM477 622h1v1h-1zM478 622h1v1h-1zM479 621h1v1h-1zM480 621h1v1h-1zM481 621h1v1h-1zM482 622h1v1h-1zM483 622h1v1h-1zM484 622h1v1h-1zM485 622h1v1h-1zM486 623h1v1h-1zM487 623h1v1h-1zM488 623h1v1h-1zM489 624h1v1h-1zM490 625h1v1h-1zM491 626h1v1h-1zM492 627h1v1h-1zM493 628h1v1h-1zM494 628h1v1h-1zM495 629h1v1h-1zM496 629h1v1h-1zM497 630h1v1h-1zM498 630h1v1h-1zM499 631h1v1h-1zM500 631h1v1h-1zM501 630h1v1h-1zM502 629h1v1h-1zM503 628h1v1h-1zM504 627h1v1h-1zM505 626h1v1h-1zM506 625h1v1h-1zM507 624h1v1h-1zM508 623h1v1h-1zM509 623h1v1h-1zM510 623h1v1h-1zM511 623h1v1h-1zM512 623h1v1h-1zM513 624h1v1h-1zM514 625h1v1h-1zM515 625h1v1h-1zM516 626h1v1h-1zM517 626h1v1h-1zM518 627h1v1h-1zM519 627h1v1h-1zM520 627h1v1h-1zM521 628h1v1h-1zM522 629h1v1h-1zM523 629h1v1h-1zM524 630h1v1h-1zM525 629h1v1h-1zM526 627h1v2h-1zM527 626h1v1h-1zM528 625h1v1h-1zM529 624h1v1h-1zM530 624h1v1h-1zM531 623h1v1h-1zM532 623h1v1h-1zM533 623h1v1h-1zM534 623h1v1h-1zM535 623h1v1h-1zM536 623h1v1h-1zM537 624h1v1h-1zM538 624h1v1h-1zM539 625h1v1h-1zM540 625h1v1h-1zM541 625h1v1h-1zM542 625h1v1h-1zM543 625h1v1h-1zM544 625h1v1h-1zM545 626h1v1h-1zM546 627h1v1h-1zM547 627h1v1h-1zM548 628h1v1h-1zM549 629h1v1h-1zM550 630h1v1h-1zM551 630h1v1h-1zM552 631h1v1h-1zM553 631h1v1h-1zM554 631h1v1h-1zM555 631h1v1h-1zM556 631h1v1h-1zM557 632h1v1h-1zM558 633h1v2h-1zM559 635h1v1h-1zM560 636h1v1h-1zM561 636h1v1h-1zM562 637h1v1h-1zM563 637h1v1h-1zM564 637h1v1h-1zM565 635h1v2h-1zM566 634h1v1h-1zM567 632h1v2h-1zM568 631h1v1h-1zM569 631h1v1h-1zM570 630h1v1h-1zM571 630h1v1h-1zM572 630h1v1h-1zM573 630h1v1h-1zM574 630h1v1h-1zM575 630h1v1h-1zM576 630h1v1h-1zM577 630h1v1h-1zM578 630h1v1h-1zM579 630h1v1h-1zM580 630h1v1h-1zM581 629h1v1h-1zM582 628h1v1h-1zM583 627h1v1h-1zM584 626h1v1h-1zM585 627h1v1h-1zM586 627h1v1h-1zM587 628h1v1h-1zM588 628h1v1h-1zM589 629h1v1h-1zM590 629h1v1h-1zM591 630h1v1h-1zM592 629h1v2h-1zM593 627h1v2h-1zM594 625h1v2h-1zM595 623h1v2h-1zM596 621h1v2h-1zM597 622h1v1h-1zM598 623h1v2h-1zM599 625h1v1h-1zM600 626h1v1h-1zM601 626h1v1h-1zM602 627h1v1h-1zM603 627h1v1h-1zM604 627h1v1h-1zM605 626h1v1h-1zM606 625h1v1h-1zM607 625h1v1h-1zM608 624h1v1h-1zM609 623h1v1h-1zM610 622h1v1h-1zM611 621h1v1h-1zM612 620h1v1h-1zM613 620h1v1h-1zM614 620h1v1h-1zM615 620h1v1h-1zM616 620h1v1h-1zM617 619h1v1h-1zM618 618h1v1h-1zM619 617h1v1h-1zM620 616h1v1h-1zM621 617h1v2h-1zM622 619h1v1h-1zM623 620h1v2h-1zM624 622h1v1h-1zM625 622h1v1h-1zM626 623h1v1h-1zM627 623h1v1h-1zM628 623h1v1h-1zM629 623h1v1h-1zM630 624h1v1h-1zM631 624h1v1h-1zM632 624h1v1h-1zM633 624h1v1h-1zM634 623h1v1h-1zM635 623h1v1h-1zM636 623h1v1h-1zM637 622h1v1h-1zM638 621h1v1h-1zM639 620h1v1h-1zM640 619h1v1h-1zM641 620h1v1h-1zM642 621h1v1h-1zM643 621h1v1h-1zM644 622h1v1h-1zM645 621h1v1h-1zM646 619h1v2h-1zM647 618h1v1h-1zM648 617h1v1h-1zM649 617h1v1h-1zM650 618h1v1h-1zM651 618h1v1h-1zM652 618h1v1h-1zM653 619h1v1h-1zM654 620h1v1h-1zM655 621h1v1h-1zM656 622h1v1h-1zM657 623h1v2h-1zM658 625h1v2h-1zM659 627h1v2h-1zM660 629h1v2h-1zM661 631h1v1h-1zM662 631h1v1h-1zM663 632h1v1h-1zM664 632h1v1h-1zM665 633h1v1h-1zM666 634h1v1h-1zM667 634h1v1h-1zM668 635h1v1h-1zM669 636h1v1h-1zM670 637h1v1h-1zM671 637h1v1h-1zM672 638h1v1h-1zM673 638h1v1h-1zM674 637h1v1h-1zM675 637h1v1h-1zM676 637h1v1h-1zM677 635h1v2h-1zM678 633h1v2h-1zM679 631h1v2h-1zM680 629h1v2h-1zM681 627h1v2h-1zM682 625h1v2h-1zM683 623h1v2h-1zM684 621h1v2h-1zM685 621h1v1h-1zM686 620h1v1h-1zM687 620h1v1h-1zM688 620h1v1h-1zM689 620h1v1h-1zM690 621h1v1h-1zM691 621h1v1h-1zM692 621h1v1h-1zM693 619h1v2h-1zM694 618h1v1h-1zM695 616h1v2h-1zM696 615h1v1h-1zM697 615h1v1h-1zM698 615h1v1h-1zM699 615h1v1h-1zM700 615h1v1h-1zM701 615h1v1h-1zM702 616h1v1h-1zM703 616h1v1h-1zM704 616h1v1h-1zM705 616h1v1h-1zM706 615h1v1h-1zM707 615h1v1h-1zM708 615h1v1h-1zM709 613h1v2h-1zM710 612h1v1h-1zM711 610h1v2h-1zM712 609h1v1h-1zM713 608h1v1h-1zM714 607h1v1h-1zM715 607h1v1h-1zM716 606h1v1h-1zM717 605h1v1h-1zM718 604h1v1h-1zM719 604h1v1h-1zM720 603h1v1h-1zM721 603h1v1h-1zM722 602h1v1h-1zM723 602h1v1h-1zM724 602h1v1h-1zM725 603h1v1h-1zM726 604h1v1h-1zM727 604h1v1h-1zM728 605h1v1h-1zM729 606h1v1h-1zM730 607h1v2h-1zM731 609h1v1h-1zM732 610h1v1h-1zM733 611h1v1h-1zM734 612h1v1h-1zM735 612h1v1h-1zM736 613h1v1h-1zM737 613h1v1h-1zM738 612h1v1h-1zM739 612h1v1h-1zM740 612h1v1h-1zM741 613h1v1h-1zM742 613h1v1h-1zM743 614h1v1h-1zM744 614h1v1h-1zM745 614h1v1h-1zM746 614h1v1h-1zM747 614h1v1h-1zM748 614h1v1h-1zM749 614h1v1h-1zM750 613h1v1h-1zM751 613h1v1h-1zM752 613h1v1h-1zM753 614h1v1h-1zM754 615h1v2h-1zM755 617h1v1h-1zM756 618h1v1h-1zM757 618h1v1h-1zM758 619h1v1h-1zM759 619h1v1h-1zM760 619h1v1h-1zM761 620h1v1h-1zM762 621h1v1h-1zM763 622h1v1h-1zM764 623h1v1h-1zM765 623h1v1h-1zM766 624h1v1h-1zM767 624h1v1h-1zM768 624h1v1h-1zM769 624h1v1h-1zM770 625h1v1h-1zM771 625h1v1h-1zM772 625h1v1h-1zM773 626h1v1h-1zM774 626h1v1h-1zM775 627h1v1h-1zM776 627h1v1h-1zM777 627h1v1h-1zM778 628h1v1h-1zM779 628h1v1h-1zM780 628h1v1h-1zM781 627h1v1h-1zM782 626h1v1h-1zM783 625h1v1h-1zM784 624h1v1h-1zM785 622h1v2h-1zM786 621h1v1h-1zM787 619h1v2h-1zM788 618h1v1h-1zM789 619h1v1h-1zM790 620h1v2h-1zM791 622h1v1h-1zM792 623h1v1h-1zM793 623h1v1h-1zM794 623h1v1h-1zM795 623h1v1h-1zM796 623h1v1h-1zM797 622h1v1h-1zM798 621h1v1h-1zM799 620h1v1h-1zM800 619h1v1h-1zM801 620h1v1h-1zM802 621h1v2h-1zM803 623h1v1h-1zM804 624h1v1h-1zM805 625h1v1h-1zM806 626h1v2h-1zM807 628h1v1h-1zM808 629h1v1h-1zM809 627h1v2h-1zM810 626h1v1h-1zM811 624h1v2h-1zM812 623h1v1h-1zM813 622h1v1h-1zM814 620h1v2h-1zM815 619h1v1h-1zM816 618h1v1h-1zM817 618h1v1h-1zM818 618h1v1h-1zM819 618h1v1h-1zM820 618h1v1h-1zM821 617h1v1h-1zM822 617h1v1h-1zM823 616h1v1h-1zM824 616h1v1h-1zM825 615h1v1h-1zM826 615h1v1h-1zM827 614h1v1h-1zM828 614h1v1h-1zM829 615h1v1h-1zM830 616h1v2h-1zM831 618h1v1h-1zM832 619h1v1h-1zM833 617h1v2h-1zM834 615h1v2h-1zM835 613h1v2h-1zM836 612h1v1h-1zM837 612h1v1h-1zM838 613h1v1h-1zM839 613h1v1h-1zM840 613h1v1h-1zM841 613h1v1h-1zM842 613h1v1h-1zM843 613h1v1h-1zM844 613h1v1h-1zM845 611h1v2h-1zM846 610h1v1h-1zM847 608h1v2h-1zM848 607h1v1h-1zM849 607h1v1h-1zM850 607h1v1h-1zM851 607h1v1h-1zM852 607h1v1h-1zM853 607h1v1h-1zM854 607h1v1h-1zM855 607h1v1h-1zM856 607h1v1h-1zM857 606h1v1h-1zM858 604h1v2h-1zM859 603h1v1h-1zM860 602h1v1h-1zM861 602h1v1h-1zM862 603h1v1h-1zM863 603h1v1h-1zM864 603h1v1h-1zM865 603h1v1h-1zM866 602h1v1h-1zM867 602h1v1h-1zM868 602h1v1h-1zM869 602h1v1h-1zM870 603h1v1h-1zM871 603h1v1h-1zM872 603h1v1h-1zM873 601h1v2h-1zM874 600h1v1h-1zM875 598h1v2h-1zM876 597h1v1h-1zM877 596h1v1h-1zM878 596h1v1h-1zM879 595h1v1h-1zM880 595h1v1h-1zM881 596h1v1h-1zM882 597h1v1h-1zM883 598h1v1h-1zM884 599h1v1h-1zM885 600h1v1h-1zM886 601h1v2h-1zM887 603h1v1h-1zM888 604h1v1h-1zM889 604h1v1h-1zM890 604h1v1h-1zM891 604h1v1h-1zM892 604h1v1h-1zM893 603h1v1h-1zM894 602h1v1h-1zM895 602h1v1h-1zM896 601h1v1h-1zM897 601h1v1h-1zM898 601h1v1h-1zM899 601h1v1h-1zM900 601h1v1h-1zM901 600h1v1h-1zM902 600h1v1h-1zM903 599h1v1h-1zM904 599h1v1h-1zM905 598h1v1h-1zM906 597h1v1h-1zM907 597h1v1h-1zM908 596h1v1h-1zM909 597h1v2h-1zM910 599h1v2h-1zM911 601h1v2h-1zM912 603h1v1h-1zM913 603h1v1h-1zM914 602h1v1h-1zM915 602h1v1h-1zM916 602h1v1h-1zM917 602h1v1h-1zM918 601h1v1h-1zM919 601h1v1h-1zM920 601h1v1h-1zM921 601h1v1h-1zM922 602h1v1h-1zM923 602h1v1h-1z" fill="#1e90ff"/>
<path d="M3 23h1164v1h-1164zM3 23h1v461h-1zM3 485h1v85h-1zM3 571h1v89h-1zM1166 23h1v461h-1zM1166 485h1v85h-1zM1166 571h1v89h-1zM3 483h1164v1h-1164zM3 485h1164v1h-1164zM3 569h1164v1h-1164zM3 571h1164v1h-1164zM3 659h1164v1h-1164zM1167 51h2v1h-2zM1167 84h2v1h-2zM1167 117h2v1h-2zM1167 150h2v1h-2zM1167 183h2v1h-2zM1167 216h2v1h-2zM1167 249h2v1h-2zM1167 282h2v1h-2zM1167 315h2v1h-2zM1167 348h2v1h-2zM1167 381h2v1h-2zM1167 414h2v1h-2zM1167 447h2v1h-2zM1167 487h1v1h-1zM1167 528h1v1h-1zM1167 568h1v1h-1zM1167 573h1v1h-1zM1167 658h1v1h-1zM4 660h1v3h-1zM68 660h1v3h-1zM132 660h1v3h-1zM196 660h1v3h-1zM260 660h1v3h-1zM324 660h1v3h-1zM388 660h1v3h-1zM452 660h1v3h-1zM516 660h1v3h-1zM580 660h1v3h-1zM644 660h1v3h-1zM708 660h1v3h-1zM772 660h1v3h-1zM836 660h1v3h-1zM900 660h1v3h-1z" fill="#000"/>
<rect x="1166" y="180" width="2" height="2" fill="#ff0000"/>
<rect x="1166" y="250" width="2" height="2" fill="#ff0000"/>
<rect x="1166" y="331" width="2" height="2" fill="#00ff00"/>
<rect x="1166" y="406" width="2" height="2" fill="#0000ff"/>
<rect x="1166" y="477" width="2" height="2" fill="#0000ff"/>
<rect x="1166" y="481" width="2" height="2" fill="#ff0000"/>
<path d="M7 34.6L10.5 30.2L14 34.6z" fill="#000" shape-rendering="auto"/>
</svg>
<div class="t ax" style="left:1172px;top:46.5px;">0.79960</div>
<div class="t ax" style="left:1172px;top:79.5px;">0.79260</div>
<div class="t ax" style="left:1172px;top:112.5px;">0.78560</div>
<div class="t ax" style="left:1172px;top:145.5px;">0.77860</div>
<div class="t ax" style="left:1172px;top:178.5px;">0.77160</div>
<div class="t ax" style="left:1172px;top:211.5px;">0.76460</div>
<div class="t ax" style="left:1172px;top:244.5px;">0.75760</div>
<div class="t ax" style="left:1172px;top:277.5px;">0.75060</div>
<div class="t ax" style="left:1172px;top:310.5px;">0.74360</div>
<div class="t ax" style="left:1172px;top:343.5px;">0.73660</div>
<div class="t ax" style="left:1172px;top:376.5px;">0.72960</div>
<div class="t ax" style="left:1172px;top:409.5px;">0.72280</div>
<div class="t ax" style="left:1172px;top:442.5px;">0.71580</div>
<div class="t ax" style="left:1170px;top:487.5px;">0.007015</div>
<div class="t ax" style="left:1170px;top:523.5px;">0.00</div>
<div class="t ax" style="left:1170px;top:557.5px;">-0.00692</div>
<div class="t ax" style="left:1170px;top:573.5px;">100</div>
<div class="t ax" style="left:1169px;top:593.5px;">70</div>
<div class="t ax" style="left:1169px;top:628.5px;">30</div>
<div class="t ax" style="left:1170px;top:647.5px;">0</div>
<div class="tag" style="top:175px;background:#ff0000"></div>
<div class="t ax" style="left:1172px;top:176px;color:#fff;-webkit-text-stroke-color:#fff">0.77200</div>
<div class="tag" style="top:245px;background:#ff0000"></div>
<div class="t ax" style="left:1172px;top:246px;color:#fff;-webkit-text-stroke-color:#fff">0.75716</div>
<div class="tag" style="top:270px;background:#000000"></div>
<div class="t ax" style="left:1172px;top:271px;color:#fff;-webkit-text-stroke-color:#fff">0.75219</div>
<div class="tag" style="top:326px;background:#00ff00"></div>
<div class="t ax" style="left:1172px;top:327px;color:#fff;-webkit-text-stroke-color:#fff">0.74007</div>
<div class="tag" style="top:401px;background:#0000ff"></div>
<div class="t ax" style="left:1172px;top:402px;color:#fff;-webkit-text-stroke-color:#fff">0.72411</div>
<div class="tag" style="top:472px;background:#0000ff"></div>
<div class="t ax" style="left:1172px;top:473px;color:#fff;-webkit-text-stroke-color:#fff">0.70936</div>
<div class="tag" style="top:476px;background:#ff0000"></div>
<div class="t ax" style="left:1172px;top:477px;color:#fff;-webkit-text-stroke-color:#fff">0.70820</div>
<div class="t ax" style="left:3px;top:664px;letter-spacing:0.05px">6 Feb 2021</div>
<div class="t ax" style="left:67px;top:664px;letter-spacing:0.05px">25 Feb 2021</div>
<div class="t ax" style="left:131px;top:664px;letter-spacing:0.05px">16 Mar 2021</div>
<div class="t ax" style="left:195px;top:664px;letter-spacing:0.05px">3 Apr 2021</div>
<div class="t ax" style="left:259px;top:664px;letter-spacing:0.05px">22 Apr 2021</div>
<div class="t ax" style="left:323px;top:664px;letter-spacing:0.05px">11 May 2021</div>
<div class="t ax" style="left:387px;top:664px;letter-spacing:0.05px">29 May 2021</div>
<div class="t ax" style="left:451px;top:664px;letter-spacing:0.05px">17 Jun 2021</div>
<div class="t ax" style="left:515px;top:664px;letter-spacing:0.05px">6 Jul 2021</div>
<div class="t ax" style="left:579px;top:664px;letter-spacing:0.05px">24 Jul 2021</div>
<div class="t ax" style="left:643px;top:664px;letter-spacing:0.05px">12 Aug 2021</div>
<div class="t ax" style="left:707px;top:664px;letter-spacing:0.05px">31 Aug 2021</div>
<div class="t ax" style="left:771px;top:664px;letter-spacing:0.05px">18 Sep 2021</div>
<div class="t ax" style="left:835px;top:664px;letter-spacing:0.05px">7 Oct 2021</div>
<div class="t ax" style="left:899px;top:664px;letter-spacing:0.05px">26 Oct 2021</div>
<div class="t ax" style="left:20px;top:26.5px;"><span style="letter-spacing:0.27px">AUDUSD,Daily</span>&nbsp; <span style="letter-spacing:0.09px">0.75331 0.75351 0.75127 0.75219</span></div>
<div class="t ax" style="left:8px;top:489.5px;letter-spacing:0.08px">MACD(12,26,9) 0.005233 0.005249</div>
<div class="t ax" style="left:8px;top:575.5px;letter-spacing:0.14px">RSI(14) 64.3851</div>
<!-- one click trading panel -->
<div id="oct" class="abs" style="left:7px;top:43px;width:219px;height:57px">
 <div class="abs" style="left:0;top:0;width:219px;height:57px;background:#fff"></div>
 <svg width="219" height="57" viewBox="0 0 219 57" shape-rendering="crispEdges" style="left:0;top:0">
 <defs><linearGradient id="pg" x1="0" y1="0" x2="0" y2="57" gradientUnits="userSpaceOnUse"><stop offset="0" stop-color="#5a5afa"/><stop offset="0.42" stop-color="#3434e0"/><stop offset="0.62" stop-color="#1c1cc8"/><stop offset="1" stop-color="#0606a8"/></linearGradient></defs>
 <path d="M0.5 0.5H51.5V24.5H108.5V56.5H0.5z" fill="url(#pg)" stroke="#0c0cc0" stroke-width="1"/>
 <path d="M167.5 0.5H218.5V56.5H111.5V24.5H167.5z" fill="url(#pg)" stroke="#0c0cc0" stroke-width="1"/>
 </svg>
 <div class="abs" style="left:4px;top:24px;width:44px;height:1px;background:#9c9cf8"></div>
 <div class="abs" style="left:171px;top:24px;width:44px;height:1px;background:#9c9cf8"></div>
 <div class="abs sb" style="left:11.7px;top:4px;transform:scaleX(0.9);transform-origin:0 0">SELL</div>
 <div class="abs sb" style="left:180px;top:4px">BUY</div>
 <div class="abs" style="left:54px;top:0;width:111px;height:22px;background:#fff;border:1px solid #a9acb5;box-sizing:border-box"></div>
 <div class="abs" style="left:75px;top:1px;width:1px;height:20px;background:#a9acb5"></div>
 <div class="abs" style="left:143px;top:1px;width:1px;height:20px;background:#a9acb5"></div>
 <div class="abs btn" style="left:56px;top:2px"><svg width="18" height="18" shape-rendering="auto"><path d="M5.8 7h5.4l-2.7 3.3z" fill="#4a62c8"/></svg></div>
 <div class="abs btn" style="left:145px;top:2px"><svg width="18" height="18" shape-rendering="auto"><path d="M5.8 10h5.4l-2.7-3.4z" fill="#4a62c8"/></svg></div>
 <div class="abs" style="left:80px;top:3px;width:60.5px;text-align:right;font-size:12.5px;line-height:16px;color:#000">3.00</div>
 <div class="abs sm" style="left:20px;top:43px">0.75</div>
 <div class="abs big" style="left:47px;top:22px">22</div>
 <div class="abs sup" style="left:87px;top:26px">2</div>
 <div class="abs sm" style="left:130px;top:43px">0.75</div>
 <div class="abs big" style="left:157px;top:22px">23</div>
 <div class="abs sup" style="left:198px;top:26px">9</div>
</div>
<div class="abs" style="left:0;top:680px;width:1206px;height:1px;background:#e3e3e3"></div>
<div class="abs" style="left:0;top:682px;width:1206px;height:1px;background:#000"></div>
<div id="tabbar">
<div class="abs" style="left:0;top:0;width:1px;height:18px;background:#696969"></div>
<div class="abs" style="left:0;top:0;width:1206px;height:1px;background:#fff"></div>
<div class="abs" style="left:108px;top:0px;width:106px;height:18px;background:#fff"></div>
<div class="abs" style="left:109px;top:-1px;width:104px;height:19px;background:#fff;border:solid #000;border-width:0 1px 1px 1px;box-sizing:border-box"></div>
<div class="tab" style="left:16.5px;letter-spacing:-0.21px">EURUSD,Daily</div>
<div class="tab act" style="left:120px;letter-spacing:-0.14px">AUDUSD,Daily</div>
<div class="tab" style="left:222.6px;letter-spacing:-0.14px">USDCHF,H4</div>
<div class="tab" style="left:311.6px;letter-spacing:-0.2px">USDCAD,Daily</div>
<div class="tab" style="left:415px;letter-spacing:-0.11px">USDCNH,Daily</div>
<div class="tab" style="left:520.3px;letter-spacing:0.2px">UKOil,H1</div>
<div class="tab" style="left:595px;letter-spacing:-0.22px">DJ30,H1</div>
<div class="tab" style="left:663.3px;letter-spacing:0.05px">USDX,Weekly</div>
<div class="tab" style="left:764px;letter-spacing:-0.04px">XAUUSD,Daily</div>
<div class="tab" style="left:869.3px;letter-spacing:-0.46px">GBPUSD,H1</div>
<div class="tab" style="left:959.4px;letter-spacing:0.02px">USDX,Weekly</div>
<div class="sep" style="left:301px"></div>
<div class="sep" style="left:405px"></div>
<div class="sep" style="left:509px"></div>
<div class="sep" style="left:585px"></div>
<div class="sep" style="left:653px"></div>
<div class="sep" style="left:753px"></div>
<div class="sep" style="left:857px"></div>
<div class="sep" style="left:949px"></div>
<div class="sep" style="left:1049px"></div>

<svg width="1206" height="19" style="left:0;top:0" shape-rendering="auto"><path d="M1181.7 8L1185.2 4.8V11.2zM1204.2 8L1200.7 4.8V11.2z" fill="#8c8c8c"/></svg>
</div>
<div class="abs" style="left:0;top:702px;width:1206px;height:1px;background:#fff"></div>
<div class="abs" style="left:0;top:703px;width:1206px;height:3px;background:#f0f0f0"></div>
<div class="abs" style="left:0;top:706px;width:1206px;height:1px;background:#a0a0a0"></div>
</body></html>
